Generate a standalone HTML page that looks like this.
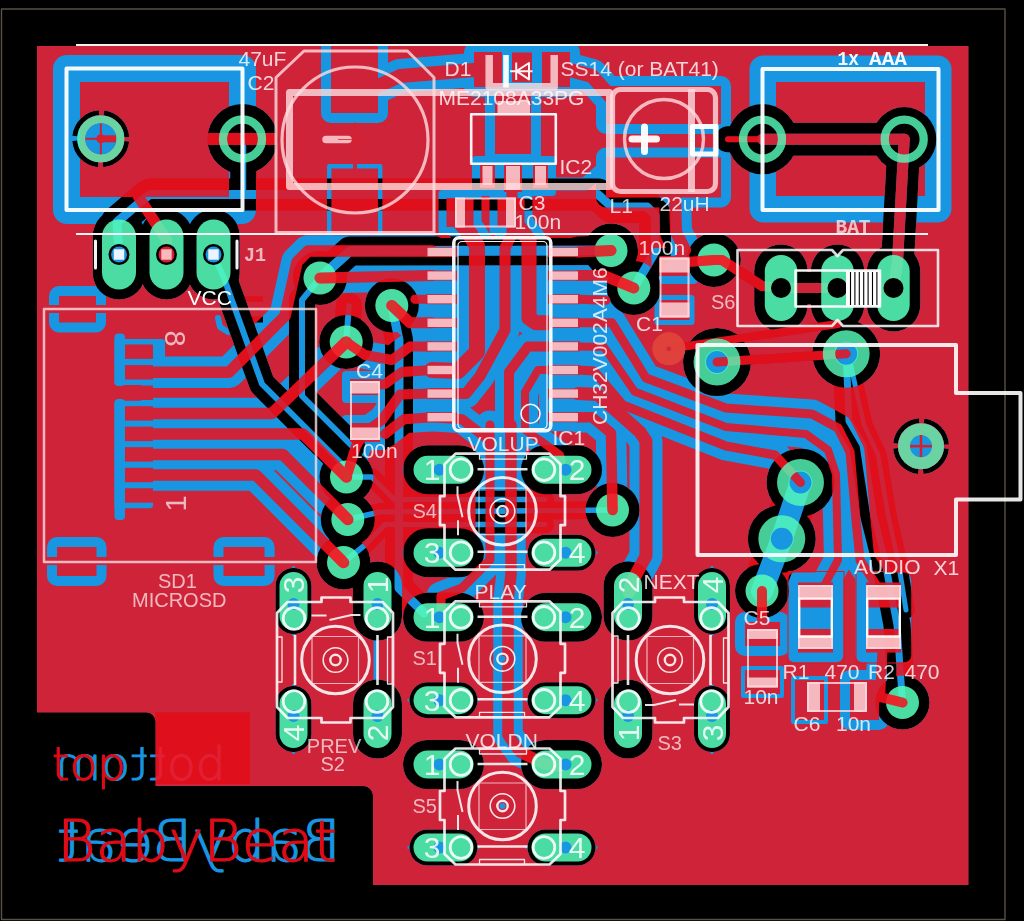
<!DOCTYPE html>
<html><head><meta charset="utf-8"><title>BabyBeat PCB</title>
<style>html,body{margin:0;padding:0;background:#000;overflow:hidden}svg{display:block}</style></head>
<body>
<svg width="1024" height="921" viewBox="0 0 1024 921" fill="none" stroke-linejoin="round">
<rect width="1024" height="921" fill="#000"/>
<defs>
<clipPath id="cp"><path d="M37,46 H968.5 V885 H373 V796 A10,10 0 0 0 363,786 H155.5 V722 A9,9 0 0 0 146.5,712.6 H37 Z"/></clipPath>
<clipPath id="vc"><circle cx="320.0" cy="278.0" r="16.5"/><circle cx="391.8" cy="305.5" r="16.5"/><circle cx="346.2" cy="342.0" r="16.5"/><circle cx="611.0" cy="250.5" r="16.5"/><circle cx="633.8" cy="288.0" r="16.5"/><circle cx="713.8" cy="260.0" r="16.5"/><circle cx="346.5" cy="477.0" r="16.5"/><circle cx="347.8" cy="519.5" r="16.5"/><circle cx="343.5" cy="562.5" r="16.5"/><circle cx="612.5" cy="510.0" r="16.5"/><circle cx="762.0" cy="591.0" r="16.5"/><circle cx="902.5" cy="702.5" r="16.5"/></clipPath>
<mask id="tm" maskUnits="userSpaceOnUse" x="0" y="0" width="1024" height="921"><rect width="1024" height="921" fill="#fff"/>
<rect x="53.0" y="55.0" width="203.0" height="169.0" rx="14.0" fill="#000" />
<rect x="749.5" y="55.5" width="202.0" height="167.0" rx="14.0" fill="#000" />
<circle cx="100.8" cy="138.8" r="26.0" fill="none" stroke="#000" stroke-width="5.0" stroke-dasharray="35.8 5" stroke-dashoffset="-2.5"/>
<circle cx="242.5" cy="139.0" r="35.1" fill="#000" />
<circle cx="762.5" cy="139.2" r="35.1" fill="#000" />
<circle cx="904.2" cy="139.2" r="32.1" fill="#000" />
<rect x="92.8" y="209.5" width="52.5" height="90.0" rx="26.2" fill="#000" />
<rect x="140.2" y="209.5" width="52.5" height="90.0" rx="26.2" fill="#000" />
<rect x="187.2" y="209.5" width="52.5" height="90.0" rx="26.2" fill="#000" />
<rect x="754.2" y="244.5" width="53.5" height="87.0" rx="26.8" fill="#000" />
<rect x="810.8" y="244.5" width="53.5" height="87.0" rx="26.8" fill="#000" />
<rect x="866.8" y="244.5" width="53.5" height="87.0" rx="26.8" fill="#000" />
<circle cx="320.0" cy="278.0" r="27.0" fill="#000" />
<circle cx="391.8" cy="305.5" r="27.0" fill="#000" />
<circle cx="346.2" cy="342.0" r="27.0" fill="#000" />
<circle cx="611.0" cy="250.5" r="27.0" fill="#000" />
<circle cx="633.8" cy="288.0" r="27.0" fill="#000" />
<circle cx="713.8" cy="260.0" r="27.0" fill="#000" />
<circle cx="346.5" cy="477.0" r="27.0" fill="#000" />
<circle cx="347.8" cy="519.5" r="27.0" fill="#000" />
<circle cx="343.5" cy="562.5" r="27.0" fill="#000" />
<circle cx="612.5" cy="510.0" r="27.0" fill="#000" />
<circle cx="762.0" cy="591.0" r="27.0" fill="#000" />
<circle cx="902.5" cy="702.5" r="27.0" fill="#000" />
<circle cx="717.0" cy="362.0" r="34.0" fill="#000" />
<circle cx="846.2" cy="353.8" r="34.0" fill="#000" />
<circle cx="800.5" cy="482.5" r="34.0" fill="#000" />
<circle cx="781.8" cy="538.8" r="34.0" fill="#000" />
<circle cx="921.0" cy="446.2" r="25.5" fill="none" stroke="#000" stroke-width="5.0" stroke-dasharray="35 5" stroke-dashoffset="-2.5"/>
<rect x="403.0" y="445.2" width="81.0" height="49.0" rx="24.5" fill="#000" />
<rect x="403.0" y="528.2" width="81.0" height="49.0" rx="24.5" fill="#000" />
<rect x="521.0" y="445.2" width="81.0" height="49.0" rx="24.5" fill="#000" />
<rect x="527.5" y="534.8" width="68.0" height="36.0" rx="18.0" fill="#000" />
<rect x="403.0" y="592.8" width="81.0" height="49.0" rx="24.5" fill="#000" />
<rect x="409.5" y="682.2" width="68.0" height="36.0" rx="18.0" fill="#000" />
<rect x="521.0" y="592.8" width="81.0" height="49.0" rx="24.5" fill="#000" />
<rect x="527.5" y="682.2" width="68.0" height="36.0" rx="18.0" fill="#000" />
<rect x="403.0" y="740.0" width="81.0" height="49.0" rx="24.5" fill="#000" />
<rect x="409.5" y="829.5" width="68.0" height="36.0" rx="18.0" fill="#000" />
<rect x="521.0" y="740.0" width="81.0" height="49.0" rx="24.5" fill="#000" />
<rect x="527.5" y="829.5" width="68.0" height="36.0" rx="18.0" fill="#000" />
<rect x="275.5" y="568.0" width="36.0" height="66.0" rx="18.0" fill="#000" />
<rect x="275.5" y="686.0" width="36.0" height="66.0" rx="18.0" fill="#000" />
<rect x="353.0" y="561.5" width="49.0" height="79.0" rx="24.5" fill="#000" />
<rect x="353.0" y="679.5" width="49.0" height="79.0" rx="24.5" fill="#000" />
<rect x="603.5" y="561.5" width="49.0" height="79.0" rx="24.5" fill="#000" />
<rect x="603.5" y="679.5" width="49.0" height="79.0" rx="24.5" fill="#000" />
<rect x="694.0" y="568.0" width="36.0" height="66.0" rx="18.0" fill="#000" />
<rect x="694.0" y="686.0" width="36.0" height="66.0" rx="18.0" fill="#000" />
<rect x="321.0" y="26.0" width="67.0" height="97.0" rx="10.0" fill="#000" />
<rect x="329.2" y="166.2" width="51.0" height="73.8" rx="0.0" fill="none" stroke="#000" stroke-width="4.5" />
<rect x="464.0" y="42.0" width="48.0" height="55.0" rx="10.0" fill="#000" />
<rect x="532.0" y="42.0" width="48.0" height="55.0" rx="10.0" fill="#000" />
<rect x="466.0" y="40.0" width="112.0" height="12.5" rx="0.0" fill="#000" />
<rect x="485.0" y="95.0" width="56.0" height="69.0" rx="10.0" fill="#000" />
<rect x="596.0" y="76.0" width="135.0" height="58.0" rx="10.0" fill="#000" />
<rect x="596.0" y="147.5" width="135.0" height="60.0" rx="10.0" fill="#000" />
<polyline points="213.5,254.5 224.0,278.0 262.0,384.0 342.0,464.0 346.5,477.0" stroke="#000" stroke-width="26.0" stroke-linecap="round" />
<polyline points="320.0,278.0 302.0,300.0 302.0,396.0 340.0,434.0 352.0,446.0" stroke="#000" stroke-width="26.0" stroke-linecap="round" />
<polyline points="166.5,254.5 166.5,240.0 138.0,196.0" stroke="#000" stroke-width="31.0" stroke-linecap="round" />
<rect x="114.5" y="339.0" width="50.5" height="25.4" rx="3.0" fill="#000" />
<rect x="114.5" y="359.6" width="38.5" height="25.4" rx="3.0" fill="#000" />
<rect x="114.5" y="400.7" width="38.5" height="25.4" rx="3.0" fill="#000" />
<rect x="114.5" y="421.2" width="38.5" height="25.4" rx="3.0" fill="#000" />
<rect x="114.5" y="441.8" width="38.5" height="25.4" rx="3.0" fill="#000" />
<rect x="114.5" y="462.3" width="38.5" height="25.4" rx="3.0" fill="#000" />
<rect x="114.5" y="482.8" width="38.5" height="25.4" rx="3.0" fill="#000" />
<rect x="114.5" y="333.5" width="10.5" height="52.5" rx="4.0" fill="#000" />
<rect x="114.5" y="399.0" width="10.5" height="121.0" rx="4.0" fill="#000" />
<polyline points="150.0,372.2 229.0,372.2 285.0,316.0 297.0,262.0 308.0,251.0 432.0,251.0" stroke="#000" stroke-width="31.5" stroke-linecap="round" />
<polyline points="150.0,413.4 272.0,413.4 346.2,342.0" stroke="#000" stroke-width="31.5" stroke-linecap="round" />
<polyline points="150.0,433.9 303.0,433.9 346.5,477.0" stroke="#000" stroke-width="31.5" stroke-linecap="round" />
<polyline points="150.0,454.4 282.7,454.4 347.8,519.5" stroke="#000" stroke-width="31.5" stroke-linecap="round" />
<polyline points="150.0,475.0 256.0,475.0 343.5,562.5" stroke="#000" stroke-width="31.5" stroke-linecap="round" />
<rect x="49.0" y="286.0" width="57.0" height="46.5" rx="10.0" fill="#000" />
<rect x="47.0" y="537.0" width="59.5" height="49.0" rx="10.0" fill="#000" />
<rect x="213.5" y="537.0" width="61.1" height="49.0" rx="10.0" fill="#000" />
<polyline points="218.0,318.0 220.0,327.0 228.0,332.0" stroke="#000" stroke-width="6.0" stroke-linecap="round" />
<polyline points="376.0,604.0 376.0,717.0" stroke="#000" stroke-width="5.0" stroke-linecap="butt" />
<polyline points="320.0,278.0 432.0,275.6" stroke="#000" stroke-width="31.0" stroke-linecap="round" />
<polyline points="391.8,305.5 410.0,322.8 432.0,322.8" stroke="#000" stroke-width="31.0" stroke-linecap="round" />
<rect x="417.0" y="238.0" width="49.0" height="28.0" rx="4.0" fill="#000" />
<rect x="539.0" y="238.0" width="50.0" height="28.0" rx="4.0" fill="#000" />
<rect x="417.0" y="261.6" width="49.0" height="28.0" rx="4.0" fill="#000" />
<rect x="539.0" y="261.6" width="50.0" height="28.0" rx="4.0" fill="#000" />
<rect x="417.0" y="285.2" width="49.0" height="28.0" rx="4.0" fill="#000" />
<rect x="539.0" y="285.2" width="50.0" height="28.0" rx="4.0" fill="#000" />
<rect x="417.0" y="308.8" width="49.0" height="28.0" rx="4.0" fill="#000" />
<rect x="539.0" y="308.8" width="50.0" height="28.0" rx="4.0" fill="#000" />
<rect x="417.0" y="332.4" width="49.0" height="28.0" rx="4.0" fill="#000" />
<rect x="539.0" y="332.4" width="50.0" height="28.0" rx="4.0" fill="#000" />
<rect x="417.0" y="356.0" width="49.0" height="28.0" rx="4.0" fill="#000" />
<rect x="539.0" y="356.0" width="50.0" height="28.0" rx="4.0" fill="#000" />
<rect x="417.0" y="379.6" width="49.0" height="28.0" rx="4.0" fill="#000" />
<rect x="539.0" y="379.6" width="50.0" height="28.0" rx="4.0" fill="#000" />
<rect x="417.0" y="403.2" width="49.0" height="28.0" rx="4.0" fill="#000" />
<rect x="539.0" y="403.2" width="50.0" height="28.0" rx="4.0" fill="#000" />
<polyline points="378.0,86.0 400.0,76.0 474.0,70.0" stroke="#000" stroke-width="34.0" stroke-linecap="round" />
<polyline points="570.0,70.0 592.0,76.0 610.0,96.0" stroke="#000" stroke-width="34.0" stroke-linecap="round" />
<rect x="485.0" y="82.0" width="56.0" height="82.0" rx="10.0" fill="#000" />
<rect x="472.0" y="156.0" width="31.0" height="40.0" rx="4.0" fill="#000" />
<rect x="496.0" y="156.0" width="34.0" height="44.0" rx="4.0" fill="#000" />
<rect x="525.0" y="156.0" width="31.0" height="40.0" rx="4.0" fill="#000" />
<rect x="438.5" y="190.0" width="43.0" height="45.0" rx="4.0" fill="#000" />
<rect x="489.5" y="190.0" width="43.0" height="45.0" rx="4.0" fill="#000" />
<polyline points="460.0,222.0 470.0,234.0 477.0,246.0 477.0,352.0 458.0,371.0 432.0,370.0" stroke="#000" stroke-width="34.0" stroke-linecap="round" />
<polyline points="512.0,180.0 512.0,234.0 505.0,248.0 505.0,330.0 480.0,376.0 466.0,393.6 432.0,393.6" stroke="#000" stroke-width="29.0" stroke-linecap="round" />
<polyline points="515.0,222.0 529.0,240.0 529.0,318.0 536.0,322.8 548.0,322.8" stroke="#000" stroke-width="33.0" stroke-linecap="round" />
<polyline points="548.0,346.4 528.0,346.4 509.0,372.0 509.0,430.0" stroke="#000" stroke-width="28.0" stroke-linecap="round" />
<polyline points="548.0,370.0 538.0,370.0 525.0,392.0 525.0,430.0 541.0,441.0 560.0,455.0 563.5,469.0" stroke="#000" stroke-width="26.0" stroke-linecap="round" />
<polyline points="432.0,417.2 462.0,419.2 489.0,440.0" stroke="#000" stroke-width="28.0" stroke-linecap="round" />
<polyline points="432.0,346.4 410.0,346.4 392.0,360.0 365.0,355.0 346.2,342.0" stroke="#000" stroke-width="28.0" stroke-linecap="round" />
<polyline points="432.0,370.0 402.0,372.0 385.0,384.0 365.0,386.0" stroke="#000" stroke-width="28.0" stroke-linecap="round" />
<polyline points="432.0,393.6 400.0,394.6 382.0,420.0 365.0,432.0" stroke="#000" stroke-width="28.0" stroke-linecap="round" />
<polyline points="432.0,417.2 404.0,419.2 385.0,434.0" stroke="#000" stroke-width="28.0" stroke-linecap="round" />
<polyline points="346.5,477.0 356.0,446.0 365.0,432.0" stroke="#000" stroke-width="30.0" stroke-linecap="round" />
<polyline points="432.0,299.2 415.0,299.2" stroke="#000" stroke-width="27.0" stroke-linecap="round" />
<rect x="342.0" y="371.0" width="46.0" height="32.0" rx="4.0" fill="#000" />
<rect x="342.0" y="415.0" width="46.0" height="35.0" rx="4.0" fill="#000" />
<polyline points="675.0,197.0 676.0,232.0 685.0,250.0 678.0,264.0" stroke="#000" stroke-width="32.0" stroke-linecap="round" />
<rect x="651.5" y="248.0" width="46.0" height="36.0" rx="4.0" fill="#000" />
<rect x="654.5" y="295.0" width="40.0" height="30.0" rx="3.0" fill="#000" />
<polyline points="728.0,139.2 762.5,139.2" stroke="#000" stroke-width="26.0" stroke-linecap="round" />
<polyline points="762.5,139.2 904.2,139.2" stroke="#000" stroke-width="33.0" stroke-linecap="round" />
<polyline points="904.2,139.2 897.5,262.0 893.5,288.0" stroke="#000" stroke-width="33.0" stroke-linecap="round" />
<polyline points="781.0,288.0 837.5,288.0" stroke="#000" stroke-width="32.0" stroke-linecap="round" />
<polyline points="611.0,250.5 578.0,252.0" stroke="#000" stroke-width="31.0" stroke-linecap="round" />
<polyline points="633.8,288.0 604.0,275.6 578.0,275.6" stroke="#000" stroke-width="31.0" stroke-linecap="round" />
<polyline points="578.0,299.2 606.0,300.2" stroke="#000" stroke-width="27.0" stroke-linecap="round" />
<polyline points="578.0,322.8 612.0,322.8 646.0,378.0 726.0,408.0 812.0,414.0 838.0,428.0 850.0,452.0 856.0,520.0 860.0,560.0 878.0,588.0" stroke="#000" stroke-width="29.0" stroke-linecap="round" />
<polyline points="578.0,346.4 604.0,346.9 634.5,391.4 726.0,427.0 806.0,434.0 828.0,450.0 836.0,474.0 838.0,560.0 824.0,586.0" stroke="#000" stroke-width="28.0" stroke-linecap="round" />
<polyline points="578.0,370.0 594.0,371.0 622.8,405.0 726.0,446.0 775.0,455.0 800.5,482.5" stroke="#000" stroke-width="29.0" stroke-linecap="round" />
<rect x="787.5" y="572.5" width="56.0" height="90.0" rx="8.0" fill="#000" />
<rect x="798.0" y="582.5" width="35.0" height="25.0" rx="0.0" fill="#000" />
<rect x="798.0" y="629.0" width="35.0" height="23.5" rx="0.0" fill="#000" />
<rect x="855.5" y="572.5" width="56.0" height="90.0" rx="8.0" fill="#000" />
<rect x="866.0" y="582.5" width="35.0" height="25.0" rx="0.0" fill="#000" />
<rect x="866.0" y="629.0" width="35.0" height="23.5" rx="0.0" fill="#000" />
<rect x="735.0" y="612.0" width="55.0" height="44.0" rx="10.0" fill="#000" />
<rect x="741.0" y="666.0" width="43.0" height="32.0" rx="2.0" fill="#000" />
<rect x="791.0" y="676.0" width="37.0" height="48.0" rx="2.0" fill="#000" />
<rect x="840.0" y="670.0" width="49.0" height="60.0" rx="10.0" fill="#000" />
<polyline points="762.0,591.0 762.0,630.0" stroke="#000" stroke-width="30.0" stroke-linecap="round" />
<polyline points="902.5,702.5 880.0,697.0 865.0,700.0" stroke="#000" stroke-width="30.0" stroke-linecap="round" />
<polyline points="883.0,640.0 880.0,697.0" stroke="#000" stroke-width="30.0" stroke-linecap="round" />
<polyline points="490.0,425.0 490.0,560.0 462.0,588.0 441.0,596.0 441.0,617.0" stroke="#000" stroke-width="29.0" stroke-linecap="round" />
<polyline points="511.0,425.0 511.0,575.0 508.0,600.0 508.0,735.0 520.0,752.0 545.0,764.0 561.0,766.0" stroke="#000" stroke-width="29.5" stroke-linecap="round" />
<polyline points="578.0,417.2 592.0,417.2 611.0,433.0 612.5,510.0" stroke="#000" stroke-width="30.5" stroke-linecap="round" />
<polyline points="578.0,393.6 598.0,394.6 640.0,432.0 646.0,441.0 646.0,556.0 634.0,578.0 629.0,592.0" stroke="#000" stroke-width="33.0" stroke-linecap="round" />
<polyline points="548.0,184.0 585.0,184.0 600.0,171.0" stroke="#000" stroke-width="13.0" stroke-linecap="butt" />
<polyline points="525.5,552.8 597.5,552.8" stroke="#000" stroke-width="2.6" stroke-linecap="butt" />
<polyline points="407.5,700.2 479.5,700.2" stroke="#000" stroke-width="2.6" stroke-linecap="butt" />
<polyline points="525.5,700.2 597.5,700.2" stroke="#000" stroke-width="2.6" stroke-linecap="butt" />
<polyline points="407.5,847.5 479.5,847.5" stroke="#000" stroke-width="2.6" stroke-linecap="butt" />
<polyline points="525.5,847.5 597.5,847.5" stroke="#000" stroke-width="2.6" stroke-linecap="butt" />
<polyline points="293.5,566.0 293.5,636.0" stroke="#000" stroke-width="2.6" stroke-linecap="butt" />
<polyline points="293.5,684.0 293.5,754.0" stroke="#000" stroke-width="2.6" stroke-linecap="butt" />
<polyline points="712.0,566.0 712.0,636.0" stroke="#000" stroke-width="2.6" stroke-linecap="butt" />
<polyline points="712.0,684.0 712.0,754.0" stroke="#000" stroke-width="2.6" stroke-linecap="butt" />
</mask>
<mask id="tm2" maskUnits="userSpaceOnUse" x="0" y="0" width="1024" height="921"><rect width="1024" height="921" fill="#fff"/>
<circle cx="100.8" cy="138.8" r="26.0" fill="none" stroke="#000" stroke-width="5.0" stroke-dasharray="35.8 5" stroke-dashoffset="-2.5"/>
<circle cx="242.5" cy="139.0" r="35.1" fill="#000" />
<circle cx="762.5" cy="139.2" r="35.1" fill="#000" />
<circle cx="904.2" cy="139.2" r="32.1" fill="#000" />
<circle cx="717.0" cy="362.0" r="34.0" fill="#000" />
<circle cx="846.2" cy="353.8" r="34.0" fill="#000" />
<circle cx="800.5" cy="482.5" r="34.0" fill="#000" />
<circle cx="781.8" cy="538.8" r="34.0" fill="#000" />
<polyline points="762.5,139.2 904.2,139.2" stroke="#000" stroke-width="33.0" stroke-linecap="round" />
<polyline points="904.2,139.2 897.5,262.0 893.5,288.0" stroke="#000" stroke-width="33.0" stroke-linecap="round" />
<polyline points="781.0,288.0 837.5,288.0" stroke="#000" stroke-width="32.0" stroke-linecap="round" />
</mask>
</defs>
<defs>
<mask id="tm3" maskUnits="userSpaceOnUse" x="0" y="0" width="1024" height="921"><rect width="1024" height="921" fill="#fff"/>
<rect x="53.0" y="55.0" width="203.0" height="169.0" rx="14.0" fill="#000" />
<rect x="749.5" y="55.5" width="202.0" height="167.0" rx="14.0" fill="#000" />
<circle cx="100.8" cy="138.8" r="26.0" fill="none" stroke="#000" stroke-width="5.0" stroke-dasharray="35.8 5" stroke-dashoffset="-2.5"/>
<circle cx="242.5" cy="139.0" r="35.1" fill="#000" />
<circle cx="762.5" cy="139.2" r="35.1" fill="#000" />
<circle cx="904.2" cy="139.2" r="32.1" fill="#000" />
<rect x="92.8" y="209.5" width="52.5" height="90.0" rx="26.2" fill="#000" />
<rect x="140.2" y="209.5" width="52.5" height="90.0" rx="26.2" fill="#000" />
<rect x="187.2" y="209.5" width="52.5" height="90.0" rx="26.2" fill="#000" />
<rect x="754.2" y="244.5" width="53.5" height="87.0" rx="26.8" fill="#000" />
<rect x="810.8" y="244.5" width="53.5" height="87.0" rx="26.8" fill="#000" />
<rect x="866.8" y="244.5" width="53.5" height="87.0" rx="26.8" fill="#000" />
<circle cx="320.0" cy="278.0" r="27.0" fill="#000" />
<circle cx="391.8" cy="305.5" r="27.0" fill="#000" />
<circle cx="346.2" cy="342.0" r="27.0" fill="#000" />
<circle cx="611.0" cy="250.5" r="27.0" fill="#000" />
<circle cx="633.8" cy="288.0" r="27.0" fill="#000" />
<circle cx="713.8" cy="260.0" r="27.0" fill="#000" />
<circle cx="346.5" cy="477.0" r="27.0" fill="#000" />
<circle cx="347.8" cy="519.5" r="27.0" fill="#000" />
<circle cx="343.5" cy="562.5" r="27.0" fill="#000" />
<circle cx="612.5" cy="510.0" r="27.0" fill="#000" />
<circle cx="762.0" cy="591.0" r="27.0" fill="#000" />
<circle cx="902.5" cy="702.5" r="27.0" fill="#000" />
<circle cx="717.0" cy="362.0" r="34.0" fill="#000" />
<circle cx="846.2" cy="353.8" r="34.0" fill="#000" />
<circle cx="800.5" cy="482.5" r="34.0" fill="#000" />
<circle cx="781.8" cy="538.8" r="34.0" fill="#000" />
<circle cx="921.0" cy="446.2" r="25.5" fill="none" stroke="#000" stroke-width="5.0" stroke-dasharray="35 5" stroke-dashoffset="-2.5"/>
<rect x="403.0" y="445.2" width="81.0" height="49.0" rx="24.5" fill="#000" />
<rect x="403.0" y="528.2" width="81.0" height="49.0" rx="24.5" fill="#000" />
<rect x="521.0" y="445.2" width="81.0" height="49.0" rx="24.5" fill="#000" />
<rect x="527.5" y="534.8" width="68.0" height="36.0" rx="18.0" fill="#000" />
<rect x="403.0" y="592.8" width="81.0" height="49.0" rx="24.5" fill="#000" />
<rect x="409.5" y="682.2" width="68.0" height="36.0" rx="18.0" fill="#000" />
<rect x="521.0" y="592.8" width="81.0" height="49.0" rx="24.5" fill="#000" />
<rect x="527.5" y="682.2" width="68.0" height="36.0" rx="18.0" fill="#000" />
<rect x="403.0" y="740.0" width="81.0" height="49.0" rx="24.5" fill="#000" />
<rect x="409.5" y="829.5" width="68.0" height="36.0" rx="18.0" fill="#000" />
<rect x="521.0" y="740.0" width="81.0" height="49.0" rx="24.5" fill="#000" />
<rect x="527.5" y="829.5" width="68.0" height="36.0" rx="18.0" fill="#000" />
<rect x="275.5" y="568.0" width="36.0" height="66.0" rx="18.0" fill="#000" />
<rect x="275.5" y="686.0" width="36.0" height="66.0" rx="18.0" fill="#000" />
<rect x="353.0" y="561.5" width="49.0" height="79.0" rx="24.5" fill="#000" />
<rect x="353.0" y="679.5" width="49.0" height="79.0" rx="24.5" fill="#000" />
<rect x="603.5" y="561.5" width="49.0" height="79.0" rx="24.5" fill="#000" />
<rect x="603.5" y="679.5" width="49.0" height="79.0" rx="24.5" fill="#000" />
<rect x="694.0" y="568.0" width="36.0" height="66.0" rx="18.0" fill="#000" />
<rect x="694.0" y="686.0" width="36.0" height="66.0" rx="18.0" fill="#000" />
<rect x="321.0" y="26.0" width="67.0" height="97.0" rx="10.0" fill="#000" />
<rect x="329.2" y="166.2" width="51.0" height="73.8" rx="0.0" fill="none" stroke="#000" stroke-width="4.5" />
<rect x="464.0" y="42.0" width="48.0" height="55.0" rx="10.0" fill="#000" />
<rect x="532.0" y="42.0" width="48.0" height="55.0" rx="10.0" fill="#000" />
<rect x="466.0" y="40.0" width="112.0" height="12.5" rx="0.0" fill="#000" />
<rect x="485.0" y="95.0" width="56.0" height="69.0" rx="10.0" fill="#000" />
<rect x="596.0" y="76.0" width="135.0" height="58.0" rx="10.0" fill="#000" />
<rect x="596.0" y="147.5" width="135.0" height="60.0" rx="10.0" fill="#000" />
<polyline points="213.5,254.5 224.0,278.0 262.0,384.0 342.0,464.0 346.5,477.0" stroke="#000" stroke-width="26.0" stroke-linecap="round" />
<polyline points="320.0,278.0 302.0,300.0 302.0,396.0 340.0,434.0 352.0,446.0" stroke="#000" stroke-width="26.0" stroke-linecap="round" />
<polyline points="166.5,254.5 166.5,240.0 138.0,196.0" stroke="#000" stroke-width="31.0" stroke-linecap="round" />
<rect x="114.5" y="339.0" width="50.5" height="25.4" rx="3.0" fill="#000" />
<rect x="114.5" y="359.6" width="38.5" height="25.4" rx="3.0" fill="#000" />
<rect x="114.5" y="400.7" width="38.5" height="25.4" rx="3.0" fill="#000" />
<rect x="114.5" y="421.2" width="38.5" height="25.4" rx="3.0" fill="#000" />
<rect x="114.5" y="441.8" width="38.5" height="25.4" rx="3.0" fill="#000" />
<rect x="114.5" y="462.3" width="38.5" height="25.4" rx="3.0" fill="#000" />
<rect x="114.5" y="482.8" width="38.5" height="25.4" rx="3.0" fill="#000" />
<rect x="114.5" y="333.5" width="10.5" height="52.5" rx="4.0" fill="#000" />
<rect x="114.5" y="399.0" width="10.5" height="121.0" rx="4.0" fill="#000" />
<polyline points="150.0,372.2 229.0,372.2 285.0,316.0 297.0,262.0 308.0,251.0 432.0,251.0" stroke="#000" stroke-width="31.5" stroke-linecap="round" />
<polyline points="150.0,413.4 272.0,413.4 346.2,342.0" stroke="#000" stroke-width="31.5" stroke-linecap="round" />
<polyline points="150.0,433.9 303.0,433.9 346.5,477.0" stroke="#000" stroke-width="31.5" stroke-linecap="round" />
<polyline points="150.0,454.4 282.7,454.4 347.8,519.5" stroke="#000" stroke-width="31.5" stroke-linecap="round" />
<polyline points="150.0,475.0 256.0,475.0 343.5,562.5" stroke="#000" stroke-width="31.5" stroke-linecap="round" />
<rect x="49.0" y="286.0" width="57.0" height="46.5" rx="10.0" fill="#000" />
<rect x="47.0" y="537.0" width="59.5" height="49.0" rx="10.0" fill="#000" />
<rect x="213.5" y="537.0" width="61.1" height="49.0" rx="10.0" fill="#000" />
<polyline points="218.0,318.0 220.0,327.0 228.0,332.0" stroke="#000" stroke-width="6.0" stroke-linecap="round" />
<polyline points="376.0,604.0 376.0,717.0" stroke="#000" stroke-width="5.0" stroke-linecap="butt" />
<polyline points="320.0,278.0 432.0,275.6" stroke="#000" stroke-width="31.0" stroke-linecap="round" />
<polyline points="391.8,305.5 410.0,322.8 432.0,322.8" stroke="#000" stroke-width="31.0" stroke-linecap="round" />
<rect x="417.0" y="238.0" width="49.0" height="28.0" rx="4.0" fill="#000" />
<rect x="539.0" y="238.0" width="50.0" height="28.0" rx="4.0" fill="#000" />
<rect x="417.0" y="261.6" width="49.0" height="28.0" rx="4.0" fill="#000" />
<rect x="539.0" y="261.6" width="50.0" height="28.0" rx="4.0" fill="#000" />
<rect x="417.0" y="285.2" width="49.0" height="28.0" rx="4.0" fill="#000" />
<rect x="539.0" y="285.2" width="50.0" height="28.0" rx="4.0" fill="#000" />
<rect x="417.0" y="308.8" width="49.0" height="28.0" rx="4.0" fill="#000" />
<rect x="539.0" y="308.8" width="50.0" height="28.0" rx="4.0" fill="#000" />
<rect x="417.0" y="332.4" width="49.0" height="28.0" rx="4.0" fill="#000" />
<rect x="539.0" y="332.4" width="50.0" height="28.0" rx="4.0" fill="#000" />
<rect x="417.0" y="356.0" width="49.0" height="28.0" rx="4.0" fill="#000" />
<rect x="539.0" y="356.0" width="50.0" height="28.0" rx="4.0" fill="#000" />
<rect x="417.0" y="379.6" width="49.0" height="28.0" rx="4.0" fill="#000" />
<rect x="539.0" y="379.6" width="50.0" height="28.0" rx="4.0" fill="#000" />
<rect x="417.0" y="403.2" width="49.0" height="28.0" rx="4.0" fill="#000" />
<rect x="539.0" y="403.2" width="50.0" height="28.0" rx="4.0" fill="#000" />
<polyline points="378.0,86.0 400.0,76.0 474.0,70.0" stroke="#000" stroke-width="34.0" stroke-linecap="round" />
<polyline points="570.0,70.0 592.0,76.0 610.0,96.0" stroke="#000" stroke-width="34.0" stroke-linecap="round" />
<rect x="485.0" y="82.0" width="56.0" height="82.0" rx="10.0" fill="#000" />
<rect x="472.0" y="156.0" width="31.0" height="40.0" rx="4.0" fill="#000" />
<rect x="496.0" y="156.0" width="34.0" height="44.0" rx="4.0" fill="#000" />
<rect x="525.0" y="156.0" width="31.0" height="40.0" rx="4.0" fill="#000" />
<rect x="438.5" y="190.0" width="43.0" height="45.0" rx="4.0" fill="#000" />
<rect x="489.5" y="190.0" width="43.0" height="45.0" rx="4.0" fill="#000" />
<polyline points="460.0,222.0 470.0,234.0 477.0,246.0 477.0,352.0 458.0,371.0 432.0,370.0" stroke="#000" stroke-width="34.0" stroke-linecap="round" />
<polyline points="512.0,180.0 512.0,234.0 505.0,248.0 505.0,330.0 480.0,376.0 466.0,393.6 432.0,393.6" stroke="#000" stroke-width="29.0" stroke-linecap="round" />
<polyline points="515.0,222.0 529.0,240.0 529.0,318.0 536.0,322.8 548.0,322.8" stroke="#000" stroke-width="33.0" stroke-linecap="round" />
<polyline points="548.0,346.4 528.0,346.4 509.0,372.0 509.0,430.0" stroke="#000" stroke-width="28.0" stroke-linecap="round" />
<polyline points="548.0,370.0 538.0,370.0 525.0,392.0 525.0,430.0 541.0,441.0 560.0,455.0 563.5,469.0" stroke="#000" stroke-width="26.0" stroke-linecap="round" />
<polyline points="432.0,417.2 462.0,419.2 489.0,440.0" stroke="#000" stroke-width="28.0" stroke-linecap="round" />
<polyline points="432.0,346.4 410.0,346.4 392.0,360.0 365.0,355.0 346.2,342.0" stroke="#000" stroke-width="28.0" stroke-linecap="round" />
<polyline points="432.0,370.0 402.0,372.0 385.0,384.0 365.0,386.0" stroke="#000" stroke-width="28.0" stroke-linecap="round" />
<polyline points="432.0,393.6 400.0,394.6 382.0,420.0 365.0,432.0" stroke="#000" stroke-width="28.0" stroke-linecap="round" />
<polyline points="432.0,417.2 404.0,419.2 385.0,434.0" stroke="#000" stroke-width="28.0" stroke-linecap="round" />
<polyline points="346.5,477.0 356.0,446.0 365.0,432.0" stroke="#000" stroke-width="30.0" stroke-linecap="round" />
<polyline points="432.0,299.2 415.0,299.2" stroke="#000" stroke-width="27.0" stroke-linecap="round" />
<rect x="342.0" y="371.0" width="46.0" height="32.0" rx="4.0" fill="#000" />
<rect x="342.0" y="415.0" width="46.0" height="35.0" rx="4.0" fill="#000" />
<polyline points="675.0,197.0 676.0,232.0 685.0,250.0 678.0,264.0" stroke="#000" stroke-width="32.0" stroke-linecap="round" />
<rect x="651.5" y="248.0" width="46.0" height="36.0" rx="4.0" fill="#000" />
<rect x="654.5" y="295.0" width="40.0" height="30.0" rx="3.0" fill="#000" />
<polyline points="728.0,139.2 762.5,139.2" stroke="#000" stroke-width="26.0" stroke-linecap="round" />
<polyline points="762.5,139.2 904.2,139.2" stroke="#000" stroke-width="33.0" stroke-linecap="round" />
<polyline points="904.2,139.2 897.5,262.0 893.5,288.0" stroke="#000" stroke-width="33.0" stroke-linecap="round" />
<polyline points="781.0,288.0 837.5,288.0" stroke="#000" stroke-width="32.0" stroke-linecap="round" />
<polyline points="611.0,250.5 578.0,252.0" stroke="#000" stroke-width="31.0" stroke-linecap="round" />
<polyline points="633.8,288.0 604.0,275.6 578.0,275.6" stroke="#000" stroke-width="31.0" stroke-linecap="round" />
<polyline points="578.0,299.2 606.0,300.2" stroke="#000" stroke-width="27.0" stroke-linecap="round" />
<polyline points="578.0,322.8 612.0,322.8 646.0,378.0 726.0,408.0 812.0,414.0 838.0,428.0 850.0,452.0 856.0,520.0 860.0,560.0 878.0,588.0" stroke="#000" stroke-width="29.0" stroke-linecap="round" />
<polyline points="578.0,346.4 604.0,346.9 634.5,391.4 726.0,427.0 806.0,434.0 828.0,450.0 836.0,474.0 838.0,560.0 824.0,586.0" stroke="#000" stroke-width="28.0" stroke-linecap="round" />
<polyline points="578.0,370.0 594.0,371.0 622.8,405.0 726.0,446.0 775.0,455.0 800.5,482.5" stroke="#000" stroke-width="29.0" stroke-linecap="round" />
<rect x="787.5" y="572.5" width="56.0" height="90.0" rx="8.0" fill="#000" />
<rect x="798.0" y="582.5" width="35.0" height="25.0" rx="0.0" fill="#000" />
<rect x="798.0" y="629.0" width="35.0" height="23.5" rx="0.0" fill="#000" />
<rect x="855.5" y="572.5" width="56.0" height="90.0" rx="8.0" fill="#000" />
<rect x="866.0" y="582.5" width="35.0" height="25.0" rx="0.0" fill="#000" />
<rect x="866.0" y="629.0" width="35.0" height="23.5" rx="0.0" fill="#000" />
<rect x="735.0" y="612.0" width="55.0" height="44.0" rx="10.0" fill="#000" />
<rect x="741.0" y="666.0" width="43.0" height="32.0" rx="2.0" fill="#000" />
<rect x="791.0" y="676.0" width="37.0" height="48.0" rx="2.0" fill="#000" />
<rect x="840.0" y="670.0" width="49.0" height="60.0" rx="10.0" fill="#000" />
<polyline points="762.0,591.0 762.0,630.0" stroke="#000" stroke-width="30.0" stroke-linecap="round" />
<polyline points="902.5,702.5 880.0,697.0 865.0,700.0" stroke="#000" stroke-width="30.0" stroke-linecap="round" />
<polyline points="883.0,640.0 880.0,697.0" stroke="#000" stroke-width="30.0" stroke-linecap="round" />
<polyline points="490.0,425.0 490.0,560.0 462.0,588.0 441.0,596.0 441.0,617.0" stroke="#000" stroke-width="29.0" stroke-linecap="round" />
<polyline points="511.0,425.0 511.0,575.0 508.0,600.0 508.0,735.0 520.0,752.0 545.0,764.0 561.0,766.0" stroke="#000" stroke-width="29.5" stroke-linecap="round" />
<polyline points="578.0,417.2 592.0,417.2 611.0,433.0 612.5,510.0" stroke="#000" stroke-width="30.5" stroke-linecap="round" />
<polyline points="578.0,393.6 598.0,394.6 640.0,432.0 646.0,441.0 646.0,556.0 634.0,578.0 629.0,592.0" stroke="#000" stroke-width="33.0" stroke-linecap="round" />
<polyline points="548.0,184.0 585.0,184.0 600.0,171.0" stroke="#000" stroke-width="13.0" stroke-linecap="butt" />
<polyline points="525.5,552.8 597.5,552.8" stroke="#000" stroke-width="2.6" stroke-linecap="butt" />
<polyline points="407.5,700.2 479.5,700.2" stroke="#000" stroke-width="2.6" stroke-linecap="butt" />
<polyline points="525.5,700.2 597.5,700.2" stroke="#000" stroke-width="2.6" stroke-linecap="butt" />
<polyline points="407.5,847.5 479.5,847.5" stroke="#000" stroke-width="2.6" stroke-linecap="butt" />
<polyline points="525.5,847.5 597.5,847.5" stroke="#000" stroke-width="2.6" stroke-linecap="butt" />
<polyline points="293.5,566.0 293.5,636.0" stroke="#000" stroke-width="2.6" stroke-linecap="butt" />
<polyline points="293.5,684.0 293.5,754.0" stroke="#000" stroke-width="2.6" stroke-linecap="butt" />
<polyline points="712.0,566.0 712.0,636.0" stroke="#000" stroke-width="2.6" stroke-linecap="butt" />
<polyline points="712.0,684.0 712.0,754.0" stroke="#000" stroke-width="2.6" stroke-linecap="butt" />
<g mask="url(#tm2)"><rect x="80.0" y="82.0" width="149.0" height="115.0" rx="0.0" fill="#fff" />
<rect x="776.0" y="82.0" width="149.0" height="114.0" rx="0.0" fill="#fff" />
<rect x="331.0" y="36.0" width="47.0" height="77.0" rx="0.0" fill="#fff" />
<rect x="353.0" y="160.0" width="4.0" height="10.0" rx="0.0" fill="#fff" />
<rect x="474.0" y="52.0" width="28.0" height="35.0" rx="0.0" fill="#fff" />
<rect x="542.0" y="52.0" width="28.0" height="35.0" rx="0.0" fill="#fff" />
<rect x="495.0" y="105.0" width="36.0" height="49.0" rx="0.0" fill="#fff" />
<rect x="606.0" y="86.0" width="115.0" height="38.0" rx="0.0" fill="#fff" />
<rect x="606.0" y="157.5" width="115.0" height="40.0" rx="0.0" fill="#fff" />
<rect x="125.0" y="344.5" width="28.0" height="14.4" rx="0.0" fill="#fff" />
<rect x="125.0" y="365.1" width="28.0" height="14.4" rx="0.0" fill="#fff" />
<rect x="125.0" y="385.6" width="28.0" height="14.4" rx="0.0" fill="#fff" />
<rect x="125.0" y="406.2" width="28.0" height="14.4" rx="0.0" fill="#fff" />
<rect x="125.0" y="426.7" width="28.0" height="14.4" rx="0.0" fill="#fff" />
<rect x="125.0" y="447.2" width="28.0" height="14.4" rx="0.0" fill="#fff" />
<rect x="125.0" y="467.8" width="28.0" height="14.4" rx="0.0" fill="#fff" />
<rect x="125.0" y="488.3" width="28.0" height="14.4" rx="0.0" fill="#fff" />
<rect x="59.0" y="296.0" width="37.0" height="26.5" rx="0.0" fill="#fff" />
<rect x="57.0" y="547.0" width="39.5" height="29.0" rx="0.0" fill="#fff" />
<rect x="223.5" y="547.0" width="41.1" height="29.0" rx="0.0" fill="#fff" />
<rect x="45.0" y="305.0" width="15.0" height="8.0" rx="0.0" fill="#fff" />
<rect x="95.0" y="305.0" width="13.0" height="8.0" rx="0.0" fill="#fff" />
<rect x="45.0" y="557.0" width="13.0" height="8.0" rx="0.0" fill="#fff" />
<rect x="95.5" y="557.0" width="12.5" height="8.0" rx="0.0" fill="#fff" />
<rect x="212.0" y="557.0" width="12.5" height="8.0" rx="0.0" fill="#fff" />
<rect x="264.0" y="557.0" width="12.0" height="8.0" rx="0.0" fill="#fff" />
<rect x="426.0" y="247.0" width="31.0" height="10.0" rx="0.0" fill="#fff" />
<rect x="548.0" y="247.0" width="32.0" height="10.0" rx="0.0" fill="#fff" />
<rect x="426.0" y="270.6" width="31.0" height="10.0" rx="0.0" fill="#fff" />
<rect x="548.0" y="270.6" width="32.0" height="10.0" rx="0.0" fill="#fff" />
<rect x="426.0" y="294.2" width="31.0" height="10.0" rx="0.0" fill="#fff" />
<rect x="548.0" y="294.2" width="32.0" height="10.0" rx="0.0" fill="#fff" />
<rect x="426.0" y="317.8" width="31.0" height="10.0" rx="0.0" fill="#fff" />
<rect x="548.0" y="317.8" width="32.0" height="10.0" rx="0.0" fill="#fff" />
<rect x="426.0" y="341.4" width="31.0" height="10.0" rx="0.0" fill="#fff" />
<rect x="548.0" y="341.4" width="32.0" height="10.0" rx="0.0" fill="#fff" />
<rect x="426.0" y="365.0" width="31.0" height="10.0" rx="0.0" fill="#fff" />
<rect x="548.0" y="365.0" width="32.0" height="10.0" rx="0.0" fill="#fff" />
<rect x="426.0" y="388.6" width="31.0" height="10.0" rx="0.0" fill="#fff" />
<rect x="548.0" y="388.6" width="32.0" height="10.0" rx="0.0" fill="#fff" />
<rect x="426.0" y="412.2" width="31.0" height="10.0" rx="0.0" fill="#fff" />
<rect x="548.0" y="412.2" width="32.0" height="10.0" rx="0.0" fill="#fff" />
<rect x="495.0" y="92.0" width="36.0" height="62.0" rx="0.0" fill="#fff" />
<rect x="480.0" y="164.0" width="15.0" height="24.0" rx="0.0" fill="#fff" />
<rect x="504.0" y="164.0" width="18.0" height="28.0" rx="0.0" fill="#fff" />
<rect x="533.0" y="164.0" width="15.0" height="24.0" rx="0.0" fill="#fff" />
<rect x="446.5" y="198.0" width="27.0" height="29.0" rx="0.0" fill="#fff" />
<rect x="497.5" y="198.0" width="27.0" height="29.0" rx="0.0" fill="#fff" />
<rect x="350.0" y="379.0" width="30.0" height="16.0" rx="0.0" fill="#fff" />
<rect x="350.0" y="423.0" width="30.0" height="19.0" rx="0.0" fill="#fff" />
<rect x="659.5" y="256.0" width="30.0" height="20.0" rx="0.0" fill="#fff" />
<rect x="659.5" y="300.0" width="30.0" height="20.0" rx="0.0" fill="#fff" />
<rect x="798.0" y="582.5" width="35.0" height="25.0" rx="0.0" fill="#fff" />
<rect x="798.0" y="629.0" width="35.0" height="23.5" rx="0.0" fill="#fff" />
<rect x="866.0" y="582.5" width="35.0" height="25.0" rx="0.0" fill="#fff" />
<rect x="866.0" y="629.0" width="35.0" height="23.5" rx="0.0" fill="#fff" />
<rect x="745.0" y="622.0" width="35.0" height="24.0" rx="0.0" fill="#fff" />
<rect x="745.0" y="670.0" width="35.0" height="24.0" rx="0.0" fill="#fff" />
<rect x="795.0" y="680.0" width="29.0" height="40.0" rx="0.0" fill="#fff" />
<rect x="850.0" y="680.0" width="29.0" height="40.0" rx="0.0" fill="#fff" /></g>
<polyline points="207.0,139.0 277.0,139.0" stroke="#fff" stroke-width="12.0" stroke-linecap="butt" />
<polyline points="166.5,254.5 166.5,240.0 138.0,196.0" stroke="#fff" stroke-width="11.0" stroke-linecap="round" />
<polyline points="150.0,372.2 229.0,372.2 285.0,316.0 297.0,262.0 308.0,251.0 432.0,251.0" stroke="#fff" stroke-width="11.5" stroke-linecap="round" />
<polyline points="150.0,413.4 272.0,413.4 346.2,342.0" stroke="#fff" stroke-width="11.5" stroke-linecap="round" />
<polyline points="150.0,433.9 303.0,433.9 346.5,477.0" stroke="#fff" stroke-width="11.5" stroke-linecap="round" />
<polyline points="150.0,454.4 282.7,454.4 347.8,519.5" stroke="#fff" stroke-width="11.5" stroke-linecap="round" />
<polyline points="150.0,475.0 256.0,475.0 343.5,562.5" stroke="#fff" stroke-width="11.5" stroke-linecap="round" />
<polyline points="320.0,278.0 432.0,275.6" stroke="#fff" stroke-width="11.0" stroke-linecap="round" />
<polyline points="391.8,305.5 410.0,322.8 432.0,322.8" stroke="#fff" stroke-width="11.0" stroke-linecap="round" />
<polyline points="378.0,86.0 400.0,76.0 474.0,70.0" stroke="#fff" stroke-width="14.0" stroke-linecap="round" />
<polyline points="570.0,70.0 592.0,76.0 610.0,96.0" stroke="#fff" stroke-width="14.0" stroke-linecap="round" />
<polyline points="460.0,222.0 470.0,234.0 477.0,246.0 477.0,352.0 458.0,371.0 432.0,370.0" stroke="#fff" stroke-width="16.0" stroke-linecap="round" />
<polyline points="512.0,180.0 512.0,234.0 505.0,248.0 505.0,330.0 480.0,376.0 466.0,393.6 432.0,393.6" stroke="#fff" stroke-width="11.0" stroke-linecap="round" />
<polyline points="515.0,222.0 529.0,240.0 529.0,318.0 536.0,322.8 548.0,322.8" stroke="#fff" stroke-width="15.0" stroke-linecap="round" />
<polyline points="548.0,346.4 528.0,346.4 509.0,372.0 509.0,430.0" stroke="#fff" stroke-width="10.0" stroke-linecap="round" />
<polyline points="548.0,370.0 538.0,370.0 525.0,392.0 525.0,430.0 541.0,441.0 560.0,455.0 563.5,469.0" stroke="#fff" stroke-width="8.0" stroke-linecap="round" />
<polyline points="432.0,417.2 462.0,419.2 489.0,440.0" stroke="#fff" stroke-width="10.0" stroke-linecap="round" />
<polyline points="432.0,346.4 410.0,346.4 392.0,360.0 365.0,355.0 346.2,342.0" stroke="#fff" stroke-width="10.0" stroke-linecap="round" />
<polyline points="432.0,370.0 402.0,372.0 385.0,384.0 365.0,386.0" stroke="#fff" stroke-width="10.0" stroke-linecap="round" />
<polyline points="432.0,393.6 400.0,394.6 382.0,420.0 365.0,432.0" stroke="#fff" stroke-width="10.0" stroke-linecap="round" />
<polyline points="432.0,417.2 404.0,419.2 385.0,434.0" stroke="#fff" stroke-width="10.0" stroke-linecap="round" />
<polyline points="346.5,477.0 356.0,446.0 365.0,432.0" stroke="#fff" stroke-width="10.0" stroke-linecap="round" />
<polyline points="432.0,299.2 415.0,299.2" stroke="#fff" stroke-width="9.0" stroke-linecap="round" />
<polyline points="675.0,197.0 676.0,232.0 685.0,250.0 678.0,264.0" stroke="#fff" stroke-width="12.0" stroke-linecap="round" />
<polyline points="713.8,260.0 688.0,262.0" stroke="#fff" stroke-width="10.0" stroke-linecap="round" />
<polyline points="728.0,139.2 762.5,139.2" stroke="#fff" stroke-width="6.0" stroke-linecap="round" />
<polyline points="762.5,139.2 904.2,139.2" stroke="#fff" stroke-width="11.0" stroke-linecap="round" />
<polyline points="904.2,139.2 897.5,262.0 893.5,288.0" stroke="#fff" stroke-width="11.0" stroke-linecap="round" />
<polyline points="781.0,288.0 837.5,288.0" stroke="#fff" stroke-width="10.0" stroke-linecap="round" />
<polyline points="713.8,260.0 722.0,260.0 762.0,286.0 781.0,288.0" stroke="#fff" stroke-width="10.0" stroke-linecap="round" />
<polyline points="668.8,348.8 837.5,324.0" stroke="#fff" stroke-width="8.0" stroke-linecap="round" />
<polyline points="717.0,362.0 846.2,353.8" stroke="#fff" stroke-width="9.0" stroke-linecap="round" />
<polyline points="611.0,250.5 578.0,252.0" stroke="#fff" stroke-width="11.0" stroke-linecap="round" />
<polyline points="633.8,288.0 604.0,275.6 578.0,275.6" stroke="#fff" stroke-width="11.0" stroke-linecap="round" />
<polyline points="578.0,299.2 606.0,300.2" stroke="#fff" stroke-width="9.0" stroke-linecap="round" />
<polyline points="578.0,322.8 612.0,322.8 646.0,378.0 726.0,408.0 812.0,414.0 838.0,428.0 850.0,452.0 856.0,520.0 860.0,560.0 878.0,588.0" stroke="#fff" stroke-width="9.0" stroke-linecap="round" />
<polyline points="578.0,346.4 604.0,346.9 634.5,391.4 726.0,427.0 806.0,434.0 828.0,450.0 836.0,474.0 838.0,560.0 824.0,586.0" stroke="#fff" stroke-width="8.0" stroke-linecap="round" />
<polyline points="578.0,370.0 594.0,371.0 622.8,405.0 726.0,446.0 775.0,455.0 800.5,482.5" stroke="#fff" stroke-width="9.0" stroke-linecap="round" />
<polyline points="762.0,591.0 762.0,630.0" stroke="#fff" stroke-width="10.0" stroke-linecap="round" />
<polyline points="902.5,702.5 880.0,697.0 865.0,700.0" stroke="#fff" stroke-width="10.0" stroke-linecap="round" />
<polyline points="883.0,640.0 880.0,697.0" stroke="#fff" stroke-width="10.0" stroke-linecap="round" />
<polyline points="490.0,425.0 490.0,560.0 462.0,588.0 441.0,596.0 441.0,617.0" stroke="#fff" stroke-width="9.0" stroke-linecap="round" />
<polyline points="511.0,425.0 511.0,575.0 508.0,600.0 508.0,735.0 520.0,752.0 545.0,764.0 561.0,766.0" stroke="#fff" stroke-width="11.5" stroke-linecap="round" />
<polyline points="578.0,417.2 592.0,417.2 611.0,433.0 612.5,510.0" stroke="#fff" stroke-width="10.5" stroke-linecap="round" />
<polyline points="578.0,393.6 598.0,394.6 640.0,432.0 646.0,441.0 646.0,556.0 634.0,578.0 629.0,592.0" stroke="#fff" stroke-width="13.0" stroke-linecap="round" />
<circle cx="441.5" cy="553.7" r="6.0" fill="#fff" />
</mask>
<mask id="bm" maskUnits="userSpaceOnUse" x="0" y="0" width="1024" height="921"><rect width="1024" height="921" fill="#000"/>
<rect x="155.5" y="712.6" width="94.5" height="71.4" rx="0.0" fill="#fff" />
<circle cx="100.8" cy="138.8" r="26.0" fill="none" stroke="#fff" stroke-width="5.0" stroke-dasharray="35.8 5" stroke-dashoffset="-2.5"/>
<circle cx="242.5" cy="139.0" r="35.1" fill="#fff" />
<circle cx="762.5" cy="139.2" r="35.1" fill="#fff" />
<circle cx="904.2" cy="139.2" r="32.1" fill="#fff" />
<rect x="92.8" y="209.5" width="52.5" height="90.0" rx="26.2" fill="#fff" />
<rect x="140.2" y="209.5" width="52.5" height="90.0" rx="26.2" fill="#fff" />
<rect x="187.2" y="209.5" width="52.5" height="90.0" rx="26.2" fill="#fff" />
<rect x="754.2" y="244.5" width="53.5" height="87.0" rx="26.8" fill="#fff" />
<rect x="810.8" y="244.5" width="53.5" height="87.0" rx="26.8" fill="#fff" />
<rect x="866.8" y="244.5" width="53.5" height="87.0" rx="26.8" fill="#fff" />
<circle cx="320.0" cy="278.0" r="27.0" fill="#fff" />
<circle cx="391.8" cy="305.5" r="27.0" fill="#fff" />
<circle cx="346.2" cy="342.0" r="27.0" fill="#fff" />
<circle cx="611.0" cy="250.5" r="27.0" fill="#fff" />
<circle cx="633.8" cy="288.0" r="27.0" fill="#fff" />
<circle cx="713.8" cy="260.0" r="27.0" fill="#fff" />
<circle cx="346.5" cy="477.0" r="27.0" fill="#fff" />
<circle cx="347.8" cy="519.5" r="27.0" fill="#fff" />
<circle cx="343.5" cy="562.5" r="27.0" fill="#fff" />
<circle cx="612.5" cy="510.0" r="27.0" fill="#fff" />
<circle cx="762.0" cy="591.0" r="27.0" fill="#fff" />
<circle cx="902.5" cy="702.5" r="27.0" fill="#fff" />
<circle cx="717.0" cy="362.0" r="34.0" fill="#fff" />
<circle cx="846.2" cy="353.8" r="34.0" fill="#fff" />
<circle cx="800.5" cy="482.5" r="34.0" fill="#fff" />
<circle cx="781.8" cy="538.8" r="34.0" fill="#fff" />
<circle cx="921.0" cy="446.2" r="25.5" fill="none" stroke="#fff" stroke-width="5.0" stroke-dasharray="35 5" stroke-dashoffset="-2.5"/>
<rect x="403.0" y="445.2" width="81.0" height="49.0" rx="24.5" fill="#fff" />
<rect x="403.0" y="528.2" width="81.0" height="49.0" rx="24.5" fill="#fff" />
<rect x="521.0" y="445.2" width="81.0" height="49.0" rx="24.5" fill="#fff" />
<rect x="527.5" y="534.8" width="68.0" height="36.0" rx="18.0" fill="#fff" />
<rect x="403.0" y="592.8" width="81.0" height="49.0" rx="24.5" fill="#fff" />
<rect x="409.5" y="682.2" width="68.0" height="36.0" rx="18.0" fill="#fff" />
<rect x="521.0" y="592.8" width="81.0" height="49.0" rx="24.5" fill="#fff" />
<rect x="527.5" y="682.2" width="68.0" height="36.0" rx="18.0" fill="#fff" />
<rect x="403.0" y="740.0" width="81.0" height="49.0" rx="24.5" fill="#fff" />
<rect x="409.5" y="829.5" width="68.0" height="36.0" rx="18.0" fill="#fff" />
<rect x="521.0" y="740.0" width="81.0" height="49.0" rx="24.5" fill="#fff" />
<rect x="527.5" y="829.5" width="68.0" height="36.0" rx="18.0" fill="#fff" />
<rect x="275.5" y="568.0" width="36.0" height="66.0" rx="18.0" fill="#fff" />
<rect x="275.5" y="686.0" width="36.0" height="66.0" rx="18.0" fill="#fff" />
<rect x="353.0" y="561.5" width="49.0" height="79.0" rx="24.5" fill="#fff" />
<rect x="353.0" y="679.5" width="49.0" height="79.0" rx="24.5" fill="#fff" />
<rect x="603.5" y="561.5" width="49.0" height="79.0" rx="24.5" fill="#fff" />
<rect x="603.5" y="679.5" width="49.0" height="79.0" rx="24.5" fill="#fff" />
<rect x="694.0" y="568.0" width="36.0" height="66.0" rx="18.0" fill="#fff" />
<rect x="694.0" y="686.0" width="36.0" height="66.0" rx="18.0" fill="#fff" />
<polyline points="119.0,254.5 117.0,222.0 147.0,196.5 150.0,194.5 598.0,194.5 612.0,207.0 647.0,207.0 655.0,215.0 655.0,252.0 633.8,288.0" stroke="#fff" stroke-width="32.0" stroke-linecap="round" />
<polyline points="243.5,139.0 243.5,194.5" stroke="#fff" stroke-width="26.5" stroke-linecap="butt" />
<polyline points="213.5,254.5 224.0,278.0 262.0,384.0 342.0,464.0 346.5,477.0" stroke="#fff" stroke-width="26.0" stroke-linecap="round" />
<polyline points="320.0,278.0 302.0,300.0 302.0,396.0 340.0,434.0 352.0,446.0" stroke="#fff" stroke-width="26.0" stroke-linecap="round" />
<polyline points="320.0,278.0 350.0,251.0 611.0,250.5" stroke="#fff" stroke-width="29.0" stroke-linecap="round" />
<polyline points="391.8,305.5 399.0,340.0 399.0,588.0 424.0,613.0" stroke="#fff" stroke-width="28.0" stroke-linecap="round" />
<polyline points="346.2,342.0 349.0,306.0" stroke="#fff" stroke-width="26.0" stroke-linecap="round" />
<polyline points="228.0,299.0 263.0,299.0" stroke="#fff" stroke-width="5.0" stroke-linecap="butt" />
<polyline points="228.0,319.5 263.0,319.5" stroke="#fff" stroke-width="6.0" stroke-linecap="butt" />
<polyline points="728.0,139.2 762.5,139.2" stroke="#fff" stroke-width="26.0" stroke-linecap="round" />
<polyline points="762.5,139.2 904.2,139.2" stroke="#fff" stroke-width="33.0" stroke-linecap="round" />
<polyline points="904.2,139.2 897.5,262.0 893.5,288.0" stroke="#fff" stroke-width="33.0" stroke-linecap="round" />
<polyline points="781.0,288.0 837.5,288.0" stroke="#fff" stroke-width="32.0" stroke-linecap="round" />
<polyline points="713.8,260.0 722.0,260.0 762.0,286.0 781.0,288.0" stroke="#fff" stroke-width="10.0" stroke-linecap="round" />
<polyline points="668.8,348.8 837.5,324.0" stroke="#fff" stroke-width="8.0" stroke-linecap="round" />
<polyline points="717.0,362.0 846.2,353.8" stroke="#fff" stroke-width="9.0" stroke-linecap="round" />
<polyline points="846.2,353.8 849.0,421.0 863.0,445.0 873.6,514.6 884.0,556.0 897.0,625.0 902.5,702.5" stroke="#fff" stroke-width="27.0" stroke-linecap="round" />
<polyline points="850.0,362.0 864.0,425.0 878.0,455.0 888.0,515.0 898.0,560.0 906.0,610.0" stroke="#fff" stroke-width="17.0" stroke-linecap="round" />
<polyline points="800.5,482.5 781.8,538.8 762.0,591.0" stroke="#fff" stroke-width="43.0" stroke-linecap="round" />
<polyline points="346.5,477.0 372.0,477.0 394.0,499.5 545.0,499.5" stroke="#fff" stroke-width="17.5" stroke-linecap="round" />
<polyline points="347.8,519.5 380.0,512.0 612.5,510.0" stroke="#fff" stroke-width="17.5" stroke-linecap="round" />
<polyline points="343.5,562.5 365.0,545.0 385.0,524.5 545.0,524.5" stroke="#fff" stroke-width="17.5" stroke-linecap="round" />
<circle cx="717.0" cy="362.0" r="12.0" fill="#000" />
<circle cx="846.2" cy="353.8" r="12.0" fill="#000" />
<circle cx="800.5" cy="482.5" r="12.0" fill="#000" />
<circle cx="781.8" cy="538.8" r="12.0" fill="#000" />
<polyline points="119.0,254.5 117.0,222.0 147.0,196.5 150.0,194.5 598.0,194.5 612.0,207.0 647.0,207.0 655.0,215.0 655.0,252.0 633.8,288.0" stroke="#000" stroke-width="9.0" stroke-linecap="round" />
<polyline points="243.5,139.0 243.5,194.5" stroke="#000" stroke-width="5.5" stroke-linecap="butt" />
<polyline points="213.5,254.5 224.0,278.0 262.0,384.0 342.0,464.0 346.5,477.0" stroke="#000" stroke-width="6.0" stroke-linecap="round" />
<polyline points="320.0,278.0 302.0,300.0 302.0,396.0 340.0,434.0 352.0,446.0" stroke="#000" stroke-width="6.0" stroke-linecap="round" />
<polyline points="320.0,278.0 350.0,251.0 611.0,250.5" stroke="#000" stroke-width="10.0" stroke-linecap="round" />
<polyline points="391.8,305.5 399.0,340.0 399.0,588.0 424.0,613.0" stroke="#000" stroke-width="9.0" stroke-linecap="round" />
<polyline points="346.2,342.0 349.0,306.0" stroke="#000" stroke-width="6.0" stroke-linecap="round" />
<polyline points="762.5,139.2 904.2,139.2" stroke="#000" stroke-width="11.0" stroke-linecap="round" />
<polyline points="904.2,139.2 897.5,262.0 893.5,288.0" stroke="#000" stroke-width="11.0" stroke-linecap="round" />
<polyline points="781.0,288.0 837.5,288.0" stroke="#000" stroke-width="10.0" stroke-linecap="round" />
<polyline points="846.2,353.8 849.0,421.0 863.0,445.0 873.6,514.6 884.0,556.0 897.0,625.0 902.5,702.5" stroke="#000" stroke-width="7.0" stroke-linecap="round" />
<polyline points="850.0,362.0 864.0,425.0 878.0,455.0 888.0,515.0 898.0,560.0 906.0,610.0" stroke="#000" stroke-width="5.0" stroke-linecap="round" />
<polyline points="800.5,482.5 781.8,538.8 762.0,591.0" stroke="#000" stroke-width="22.0" stroke-linecap="round" />
<polyline points="346.5,477.0 372.0,477.0 394.0,499.5 545.0,499.5" stroke="#000" stroke-width="5.5" stroke-linecap="round" />
<polyline points="347.8,519.5 380.0,512.0 612.5,510.0" stroke="#000" stroke-width="5.5" stroke-linecap="round" />
<polyline points="343.5,562.5 365.0,545.0 385.0,524.5 545.0,524.5" stroke="#000" stroke-width="5.5" stroke-linecap="round" />
</mask>
</defs>
<rect x="1.5" y="9" width="1003.5" height="910.5" stroke="#575244" stroke-width="1.4"/>
<g id="bottom">
<g clip-path="url(#cp)">
<g id="bpour">
<path d="M37,46 H968.5 V885 H373 V796 A10,10 0 0 0 363,786 H155.5 V722 A9,9 0 0 0 146.5,712.6 H37 Z" fill="#1896e2"/>
</g>
<g id="bclear">
<rect x="155.5" y="712.6" width="94.5" height="71.4" rx="0.0" fill="#000" />
<circle cx="100.8" cy="138.8" r="26.0" fill="none" stroke="#000" stroke-width="5.0" stroke-dasharray="35.8 5" stroke-dashoffset="-2.5"/>
<circle cx="242.5" cy="139.0" r="35.1" fill="#000" />
<circle cx="762.5" cy="139.2" r="35.1" fill="#000" />
<circle cx="904.2" cy="139.2" r="32.1" fill="#000" />
<rect x="92.8" y="209.5" width="52.5" height="90.0" rx="26.2" fill="#000" />
<rect x="140.2" y="209.5" width="52.5" height="90.0" rx="26.2" fill="#000" />
<rect x="187.2" y="209.5" width="52.5" height="90.0" rx="26.2" fill="#000" />
<rect x="754.2" y="244.5" width="53.5" height="87.0" rx="26.8" fill="#000" />
<rect x="810.8" y="244.5" width="53.5" height="87.0" rx="26.8" fill="#000" />
<rect x="866.8" y="244.5" width="53.5" height="87.0" rx="26.8" fill="#000" />
<circle cx="320.0" cy="278.0" r="27.0" fill="#000" />
<circle cx="391.8" cy="305.5" r="27.0" fill="#000" />
<circle cx="346.2" cy="342.0" r="27.0" fill="#000" />
<circle cx="611.0" cy="250.5" r="27.0" fill="#000" />
<circle cx="633.8" cy="288.0" r="27.0" fill="#000" />
<circle cx="713.8" cy="260.0" r="27.0" fill="#000" />
<circle cx="346.5" cy="477.0" r="27.0" fill="#000" />
<circle cx="347.8" cy="519.5" r="27.0" fill="#000" />
<circle cx="343.5" cy="562.5" r="27.0" fill="#000" />
<circle cx="612.5" cy="510.0" r="27.0" fill="#000" />
<circle cx="762.0" cy="591.0" r="27.0" fill="#000" />
<circle cx="902.5" cy="702.5" r="27.0" fill="#000" />
<circle cx="717.0" cy="362.0" r="34.0" fill="#000" />
<circle cx="846.2" cy="353.8" r="34.0" fill="#000" />
<circle cx="800.5" cy="482.5" r="34.0" fill="#000" />
<circle cx="781.8" cy="538.8" r="34.0" fill="#000" />
<circle cx="921.0" cy="446.2" r="25.5" fill="none" stroke="#000" stroke-width="5.0" stroke-dasharray="35 5" stroke-dashoffset="-2.5"/>
<rect x="403.0" y="445.2" width="81.0" height="49.0" rx="24.5" fill="#000" />
<rect x="403.0" y="528.2" width="81.0" height="49.0" rx="24.5" fill="#000" />
<rect x="521.0" y="445.2" width="81.0" height="49.0" rx="24.5" fill="#000" />
<rect x="527.5" y="534.8" width="68.0" height="36.0" rx="18.0" fill="#000" />
<rect x="403.0" y="592.8" width="81.0" height="49.0" rx="24.5" fill="#000" />
<rect x="409.5" y="682.2" width="68.0" height="36.0" rx="18.0" fill="#000" />
<rect x="521.0" y="592.8" width="81.0" height="49.0" rx="24.5" fill="#000" />
<rect x="527.5" y="682.2" width="68.0" height="36.0" rx="18.0" fill="#000" />
<rect x="403.0" y="740.0" width="81.0" height="49.0" rx="24.5" fill="#000" />
<rect x="409.5" y="829.5" width="68.0" height="36.0" rx="18.0" fill="#000" />
<rect x="521.0" y="740.0" width="81.0" height="49.0" rx="24.5" fill="#000" />
<rect x="527.5" y="829.5" width="68.0" height="36.0" rx="18.0" fill="#000" />
<rect x="275.5" y="568.0" width="36.0" height="66.0" rx="18.0" fill="#000" />
<rect x="275.5" y="686.0" width="36.0" height="66.0" rx="18.0" fill="#000" />
<rect x="353.0" y="561.5" width="49.0" height="79.0" rx="24.5" fill="#000" />
<rect x="353.0" y="679.5" width="49.0" height="79.0" rx="24.5" fill="#000" />
<rect x="603.5" y="561.5" width="49.0" height="79.0" rx="24.5" fill="#000" />
<rect x="603.5" y="679.5" width="49.0" height="79.0" rx="24.5" fill="#000" />
<rect x="694.0" y="568.0" width="36.0" height="66.0" rx="18.0" fill="#000" />
<rect x="694.0" y="686.0" width="36.0" height="66.0" rx="18.0" fill="#000" />
<polyline points="119.0,254.5 117.0,222.0 147.0,196.5 150.0,194.5 598.0,194.5 612.0,207.0 647.0,207.0 655.0,215.0 655.0,252.0 633.8,288.0" stroke="#000" stroke-width="32.0" stroke-linecap="round" />
<polyline points="243.5,139.0 243.5,194.5" stroke="#000" stroke-width="26.5" stroke-linecap="butt" />
<polyline points="213.5,254.5 224.0,278.0 262.0,384.0 342.0,464.0 346.5,477.0" stroke="#000" stroke-width="26.0" stroke-linecap="round" />
<polyline points="320.0,278.0 302.0,300.0 302.0,396.0 340.0,434.0 352.0,446.0" stroke="#000" stroke-width="26.0" stroke-linecap="round" />
<polyline points="320.0,278.0 350.0,251.0 611.0,250.5" stroke="#000" stroke-width="29.0" stroke-linecap="round" />
<polyline points="391.8,305.5 399.0,340.0 399.0,588.0 424.0,613.0" stroke="#000" stroke-width="28.0" stroke-linecap="round" />
<polyline points="346.2,342.0 349.0,306.0" stroke="#000" stroke-width="26.0" stroke-linecap="round" />
<polyline points="228.0,299.0 263.0,299.0" stroke="#000" stroke-width="5.0" stroke-linecap="butt" />
<polyline points="228.0,319.5 263.0,319.5" stroke="#000" stroke-width="6.0" stroke-linecap="butt" />
<polyline points="728.0,139.2 762.5,139.2" stroke="#000" stroke-width="26.0" stroke-linecap="round" />
<polyline points="762.5,139.2 904.2,139.2" stroke="#000" stroke-width="33.0" stroke-linecap="round" />
<polyline points="904.2,139.2 897.5,262.0 893.5,288.0" stroke="#000" stroke-width="33.0" stroke-linecap="round" />
<polyline points="781.0,288.0 837.5,288.0" stroke="#000" stroke-width="32.0" stroke-linecap="round" />
<polyline points="713.8,260.0 722.0,260.0 762.0,286.0 781.0,288.0" stroke="#000" stroke-width="10.0" stroke-linecap="round" />
<polyline points="668.8,348.8 837.5,324.0" stroke="#000" stroke-width="8.0" stroke-linecap="round" />
<polyline points="717.0,362.0 846.2,353.8" stroke="#000" stroke-width="9.0" stroke-linecap="round" />
<polyline points="846.2,353.8 849.0,421.0 863.0,445.0 873.6,514.6 884.0,556.0 897.0,625.0 902.5,702.5" stroke="#000" stroke-width="27.0" stroke-linecap="round" />
<polyline points="850.0,362.0 864.0,425.0 878.0,455.0 888.0,515.0 898.0,560.0 906.0,610.0" stroke="#000" stroke-width="17.0" stroke-linecap="round" />
<polyline points="800.5,482.5 781.8,538.8 762.0,591.0" stroke="#000" stroke-width="43.0" stroke-linecap="round" />
<polyline points="346.5,477.0 372.0,477.0 394.0,499.5 545.0,499.5" stroke="#000" stroke-width="17.5" stroke-linecap="round" />
<polyline points="347.8,519.5 380.0,512.0 612.5,510.0" stroke="#000" stroke-width="17.5" stroke-linecap="round" />
<polyline points="343.5,562.5 365.0,545.0 385.0,524.5 545.0,524.5" stroke="#000" stroke-width="17.5" stroke-linecap="round" />
</g>
</g>
<g id="btrace">
<circle cx="717.0" cy="362.0" r="12.0" fill="#1896e2" />
<circle cx="846.2" cy="353.8" r="12.0" fill="#1896e2" />
<circle cx="800.5" cy="482.5" r="12.0" fill="#1896e2" />
<circle cx="781.8" cy="538.8" r="12.0" fill="#1896e2" />
<polyline points="119.0,254.5 117.0,222.0 147.0,196.5 150.0,194.5 598.0,194.5 612.0,207.0 647.0,207.0 655.0,215.0 655.0,252.0 633.8,288.0" stroke="#1896e2" stroke-width="9.0" stroke-linecap="round" />
<polyline points="243.5,139.0 243.5,194.5" stroke="#1896e2" stroke-width="5.5" stroke-linecap="butt" />
<polyline points="213.5,254.5 224.0,278.0 262.0,384.0 342.0,464.0 346.5,477.0" stroke="#1896e2" stroke-width="6.0" stroke-linecap="round" />
<polyline points="320.0,278.0 302.0,300.0 302.0,396.0 340.0,434.0 352.0,446.0" stroke="#1896e2" stroke-width="6.0" stroke-linecap="round" />
<polyline points="320.0,278.0 350.0,251.0 611.0,250.5" stroke="#1896e2" stroke-width="10.0" stroke-linecap="round" />
<polyline points="391.8,305.5 399.0,340.0 399.0,588.0 424.0,613.0" stroke="#1896e2" stroke-width="9.0" stroke-linecap="round" />
<polyline points="346.2,342.0 349.0,306.0" stroke="#1896e2" stroke-width="6.0" stroke-linecap="round" />
<polyline points="762.5,139.2 904.2,139.2" stroke="#1896e2" stroke-width="11.0" stroke-linecap="round" />
<polyline points="904.2,139.2 897.5,262.0 893.5,288.0" stroke="#1896e2" stroke-width="11.0" stroke-linecap="round" />
<polyline points="781.0,288.0 837.5,288.0" stroke="#1896e2" stroke-width="10.0" stroke-linecap="round" />
<polyline points="846.2,353.8 849.0,421.0 863.0,445.0 873.6,514.6 884.0,556.0 897.0,625.0 902.5,702.5" stroke="#1896e2" stroke-width="7.0" stroke-linecap="round" />
<polyline points="850.0,362.0 864.0,425.0 878.0,455.0 888.0,515.0 898.0,560.0 906.0,610.0" stroke="#1896e2" stroke-width="5.0" stroke-linecap="round" />
<polyline points="800.5,482.5 781.8,538.8 762.0,591.0" stroke="#1896e2" stroke-width="22.0" stroke-linecap="round" />
<polyline points="346.5,477.0 372.0,477.0 394.0,499.5 545.0,499.5" stroke="#1896e2" stroke-width="5.5" stroke-linecap="round" />
<polyline points="347.8,519.5 380.0,512.0 612.5,510.0" stroke="#1896e2" stroke-width="5.5" stroke-linecap="round" />
<polyline points="343.5,562.5 365.0,545.0 385.0,524.5 545.0,524.5" stroke="#1896e2" stroke-width="5.5" stroke-linecap="round" />
<text x="0" y="0" font-size="46.8" fill="#1896e2" stroke="#1896e2" transform="translate(225.5,780) scale(-1,1)" textLength="170" lengthAdjust="spacingAndGlyphs" font-family="DejaVu Sans Light, DejaVu Sans, sans-serif" font-weight="200" stroke-width="1.1">bottom</text>
<text x="0" y="0" font-size="56.2" fill="#1896e2" stroke="#1896e2" transform="translate(341,860.6) scale(-1,1)" textLength="284" lengthAdjust="spacingAndGlyphs" font-family="DejaVu Sans Light, DejaVu Sans, sans-serif" font-weight="200" stroke-width="1.1">BabyBeat</text>
</g>
</g>
<g id="via" opacity="0.88">
<circle cx="320.0" cy="278.0" r="16.5" fill="#55fbb9" />
<circle cx="391.8" cy="305.5" r="16.5" fill="#55fbb9" />
<circle cx="346.2" cy="342.0" r="16.5" fill="#55fbb9" />
<circle cx="611.0" cy="250.5" r="16.5" fill="#55fbb9" />
<circle cx="633.8" cy="288.0" r="16.5" fill="#55fbb9" />
<circle cx="713.8" cy="260.0" r="16.5" fill="#55fbb9" />
<circle cx="346.5" cy="477.0" r="16.5" fill="#55fbb9" />
<circle cx="347.8" cy="519.5" r="16.5" fill="#55fbb9" />
<circle cx="343.5" cy="562.5" r="16.5" fill="#55fbb9" />
<circle cx="612.5" cy="510.0" r="16.5" fill="#55fbb9" />
<circle cx="762.0" cy="591.0" r="16.5" fill="#55fbb9" />
<circle cx="902.5" cy="702.5" r="16.5" fill="#55fbb9" />
<circle cx="668.8" cy="348.8" r="16.5" fill="#55fbb9" />
</g>
<g id="top" opacity="0.82">
<g mask="url(#tm)"><path d="M37,46 H968.5 V885 H373 V796 A10,10 0 0 0 363,786 H155.5 V722 A9,9 0 0 0 146.5,712.6 H37 Z" fill="#f60a14"/></g>
<g clip-path="url(#cp)"><g id="tpad" mask="url(#tm2)">
<rect x="80.0" y="82.0" width="149.0" height="115.0" rx="0.0" fill="#f60a14" />
<rect x="776.0" y="82.0" width="149.0" height="114.0" rx="0.0" fill="#f60a14" />
<rect x="331.0" y="36.0" width="47.0" height="77.0" rx="0.0" fill="#f60a14" />
<rect x="353.0" y="160.0" width="4.0" height="10.0" rx="0.0" fill="#f60a14" />
<rect x="474.0" y="52.0" width="28.0" height="35.0" rx="0.0" fill="#f60a14" />
<rect x="542.0" y="52.0" width="28.0" height="35.0" rx="0.0" fill="#f60a14" />
<rect x="495.0" y="105.0" width="36.0" height="49.0" rx="0.0" fill="#f60a14" />
<rect x="606.0" y="86.0" width="115.0" height="38.0" rx="0.0" fill="#f60a14" />
<rect x="606.0" y="157.5" width="115.0" height="40.0" rx="0.0" fill="#f60a14" />
<rect x="125.0" y="344.5" width="28.0" height="14.4" rx="0.0" fill="#f60a14" />
<rect x="125.0" y="365.1" width="28.0" height="14.4" rx="0.0" fill="#f60a14" />
<rect x="125.0" y="385.6" width="28.0" height="14.4" rx="0.0" fill="#f60a14" />
<rect x="125.0" y="406.2" width="28.0" height="14.4" rx="0.0" fill="#f60a14" />
<rect x="125.0" y="426.7" width="28.0" height="14.4" rx="0.0" fill="#f60a14" />
<rect x="125.0" y="447.2" width="28.0" height="14.4" rx="0.0" fill="#f60a14" />
<rect x="125.0" y="467.8" width="28.0" height="14.4" rx="0.0" fill="#f60a14" />
<rect x="125.0" y="488.3" width="28.0" height="14.4" rx="0.0" fill="#f60a14" />
<rect x="59.0" y="296.0" width="37.0" height="26.5" rx="0.0" fill="#f60a14" />
<rect x="57.0" y="547.0" width="39.5" height="29.0" rx="0.0" fill="#f60a14" />
<rect x="223.5" y="547.0" width="41.1" height="29.0" rx="0.0" fill="#f60a14" />
<rect x="45.0" y="305.0" width="15.0" height="8.0" rx="0.0" fill="#f60a14" />
<rect x="95.0" y="305.0" width="13.0" height="8.0" rx="0.0" fill="#f60a14" />
<rect x="45.0" y="557.0" width="13.0" height="8.0" rx="0.0" fill="#f60a14" />
<rect x="95.5" y="557.0" width="12.5" height="8.0" rx="0.0" fill="#f60a14" />
<rect x="212.0" y="557.0" width="12.5" height="8.0" rx="0.0" fill="#f60a14" />
<rect x="264.0" y="557.0" width="12.0" height="8.0" rx="0.0" fill="#f60a14" />
<rect x="426.0" y="247.0" width="31.0" height="10.0" rx="0.0" fill="#f60a14" />
<rect x="548.0" y="247.0" width="32.0" height="10.0" rx="0.0" fill="#f60a14" />
<rect x="426.0" y="270.6" width="31.0" height="10.0" rx="0.0" fill="#f60a14" />
<rect x="548.0" y="270.6" width="32.0" height="10.0" rx="0.0" fill="#f60a14" />
<rect x="426.0" y="294.2" width="31.0" height="10.0" rx="0.0" fill="#f60a14" />
<rect x="548.0" y="294.2" width="32.0" height="10.0" rx="0.0" fill="#f60a14" />
<rect x="426.0" y="317.8" width="31.0" height="10.0" rx="0.0" fill="#f60a14" />
<rect x="548.0" y="317.8" width="32.0" height="10.0" rx="0.0" fill="#f60a14" />
<rect x="426.0" y="341.4" width="31.0" height="10.0" rx="0.0" fill="#f60a14" />
<rect x="548.0" y="341.4" width="32.0" height="10.0" rx="0.0" fill="#f60a14" />
<rect x="426.0" y="365.0" width="31.0" height="10.0" rx="0.0" fill="#f60a14" />
<rect x="548.0" y="365.0" width="32.0" height="10.0" rx="0.0" fill="#f60a14" />
<rect x="426.0" y="388.6" width="31.0" height="10.0" rx="0.0" fill="#f60a14" />
<rect x="548.0" y="388.6" width="32.0" height="10.0" rx="0.0" fill="#f60a14" />
<rect x="426.0" y="412.2" width="31.0" height="10.0" rx="0.0" fill="#f60a14" />
<rect x="548.0" y="412.2" width="32.0" height="10.0" rx="0.0" fill="#f60a14" />
<rect x="495.0" y="92.0" width="36.0" height="62.0" rx="0.0" fill="#f60a14" />
<rect x="480.0" y="164.0" width="15.0" height="24.0" rx="0.0" fill="#f60a14" />
<rect x="504.0" y="164.0" width="18.0" height="28.0" rx="0.0" fill="#f60a14" />
<rect x="533.0" y="164.0" width="15.0" height="24.0" rx="0.0" fill="#f60a14" />
<rect x="446.5" y="198.0" width="27.0" height="29.0" rx="0.0" fill="#f60a14" />
<rect x="497.5" y="198.0" width="27.0" height="29.0" rx="0.0" fill="#f60a14" />
<rect x="350.0" y="379.0" width="30.0" height="16.0" rx="0.0" fill="#f60a14" />
<rect x="350.0" y="423.0" width="30.0" height="19.0" rx="0.0" fill="#f60a14" />
<rect x="659.5" y="256.0" width="30.0" height="20.0" rx="0.0" fill="#f60a14" />
<rect x="659.5" y="300.0" width="30.0" height="20.0" rx="0.0" fill="#f60a14" />
<rect x="798.0" y="582.5" width="35.0" height="25.0" rx="0.0" fill="#f60a14" />
<rect x="798.0" y="629.0" width="35.0" height="23.5" rx="0.0" fill="#f60a14" />
<rect x="866.0" y="582.5" width="35.0" height="25.0" rx="0.0" fill="#f60a14" />
<rect x="866.0" y="629.0" width="35.0" height="23.5" rx="0.0" fill="#f60a14" />
<rect x="745.0" y="622.0" width="35.0" height="24.0" rx="0.0" fill="#f60a14" />
<rect x="745.0" y="670.0" width="35.0" height="24.0" rx="0.0" fill="#f60a14" />
<rect x="795.0" y="680.0" width="29.0" height="40.0" rx="0.0" fill="#f60a14" />
<rect x="850.0" y="680.0" width="29.0" height="40.0" rx="0.0" fill="#f60a14" />
</g>
</g><g id="ttrace">
<polyline points="207.0,139.0 277.0,139.0" stroke="#f60a14" stroke-width="12.0" stroke-linecap="butt" />
<polyline points="166.5,254.5 166.5,240.0 138.0,196.0" stroke="#f60a14" stroke-width="11.0" stroke-linecap="round" />
<polyline points="150.0,372.2 229.0,372.2 285.0,316.0 297.0,262.0 308.0,251.0 432.0,251.0" stroke="#f60a14" stroke-width="11.5" stroke-linecap="round" />
<polyline points="150.0,413.4 272.0,413.4 346.2,342.0" stroke="#f60a14" stroke-width="11.5" stroke-linecap="round" />
<polyline points="150.0,433.9 303.0,433.9 346.5,477.0" stroke="#f60a14" stroke-width="11.5" stroke-linecap="round" />
<polyline points="150.0,454.4 282.7,454.4 347.8,519.5" stroke="#f60a14" stroke-width="11.5" stroke-linecap="round" />
<polyline points="150.0,475.0 256.0,475.0 343.5,562.5" stroke="#f60a14" stroke-width="11.5" stroke-linecap="round" />
<polyline points="320.0,278.0 432.0,275.6" stroke="#f60a14" stroke-width="11.0" stroke-linecap="round" />
<polyline points="391.8,305.5 410.0,322.8 432.0,322.8" stroke="#f60a14" stroke-width="11.0" stroke-linecap="round" />
<polyline points="378.0,86.0 400.0,76.0 474.0,70.0" stroke="#f60a14" stroke-width="14.0" stroke-linecap="round" />
<polyline points="570.0,70.0 592.0,76.0 610.0,96.0" stroke="#f60a14" stroke-width="14.0" stroke-linecap="round" />
<polyline points="460.0,222.0 470.0,234.0 477.0,246.0 477.0,352.0 458.0,371.0 432.0,370.0" stroke="#f60a14" stroke-width="16.0" stroke-linecap="round" />
<polyline points="512.0,180.0 512.0,234.0 505.0,248.0 505.0,330.0 480.0,376.0 466.0,393.6 432.0,393.6" stroke="#f60a14" stroke-width="11.0" stroke-linecap="round" />
<polyline points="515.0,222.0 529.0,240.0 529.0,318.0 536.0,322.8 548.0,322.8" stroke="#f60a14" stroke-width="15.0" stroke-linecap="round" />
<polyline points="548.0,346.4 528.0,346.4 509.0,372.0 509.0,430.0" stroke="#f60a14" stroke-width="10.0" stroke-linecap="round" />
<polyline points="548.0,370.0 538.0,370.0 525.0,392.0 525.0,430.0 541.0,441.0 560.0,455.0 563.5,469.0" stroke="#f60a14" stroke-width="8.0" stroke-linecap="round" />
<polyline points="432.0,417.2 462.0,419.2 489.0,440.0" stroke="#f60a14" stroke-width="10.0" stroke-linecap="round" />
<polyline points="432.0,346.4 410.0,346.4 392.0,360.0 365.0,355.0 346.2,342.0" stroke="#f60a14" stroke-width="10.0" stroke-linecap="round" />
<polyline points="432.0,370.0 402.0,372.0 385.0,384.0 365.0,386.0" stroke="#f60a14" stroke-width="10.0" stroke-linecap="round" />
<polyline points="432.0,393.6 400.0,394.6 382.0,420.0 365.0,432.0" stroke="#f60a14" stroke-width="10.0" stroke-linecap="round" />
<polyline points="432.0,417.2 404.0,419.2 385.0,434.0" stroke="#f60a14" stroke-width="10.0" stroke-linecap="round" />
<polyline points="346.5,477.0 356.0,446.0 365.0,432.0" stroke="#f60a14" stroke-width="10.0" stroke-linecap="round" />
<polyline points="432.0,299.2 415.0,299.2" stroke="#f60a14" stroke-width="9.0" stroke-linecap="round" />
<polyline points="675.0,197.0 676.0,232.0 685.0,250.0 678.0,264.0" stroke="#f60a14" stroke-width="12.0" stroke-linecap="round" />
<polyline points="713.8,260.0 688.0,262.0" stroke="#f60a14" stroke-width="10.0" stroke-linecap="round" />
<polyline points="728.0,139.2 762.5,139.2" stroke="#f60a14" stroke-width="6.0" stroke-linecap="round" />
<polyline points="762.5,139.2 904.2,139.2" stroke="#f60a14" stroke-width="11.0" stroke-linecap="round" />
<polyline points="904.2,139.2 897.5,262.0 893.5,288.0" stroke="#f60a14" stroke-width="11.0" stroke-linecap="round" />
<polyline points="781.0,288.0 837.5,288.0" stroke="#f60a14" stroke-width="10.0" stroke-linecap="round" />
<polyline points="713.8,260.0 722.0,260.0 762.0,286.0 781.0,288.0" stroke="#f60a14" stroke-width="10.0" stroke-linecap="round" />
<polyline points="668.8,348.8 837.5,324.0" stroke="#f60a14" stroke-width="8.0" stroke-linecap="round" />
<polyline points="717.0,362.0 846.2,353.8" stroke="#f60a14" stroke-width="9.0" stroke-linecap="round" />
<polyline points="611.0,250.5 578.0,252.0" stroke="#f60a14" stroke-width="11.0" stroke-linecap="round" />
<polyline points="633.8,288.0 604.0,275.6 578.0,275.6" stroke="#f60a14" stroke-width="11.0" stroke-linecap="round" />
<polyline points="578.0,299.2 606.0,300.2" stroke="#f60a14" stroke-width="9.0" stroke-linecap="round" />
<polyline points="578.0,322.8 612.0,322.8 646.0,378.0 726.0,408.0 812.0,414.0 838.0,428.0 850.0,452.0 856.0,520.0 860.0,560.0 878.0,588.0" stroke="#f60a14" stroke-width="9.0" stroke-linecap="round" />
<polyline points="578.0,346.4 604.0,346.9 634.5,391.4 726.0,427.0 806.0,434.0 828.0,450.0 836.0,474.0 838.0,560.0 824.0,586.0" stroke="#f60a14" stroke-width="8.0" stroke-linecap="round" />
<polyline points="578.0,370.0 594.0,371.0 622.8,405.0 726.0,446.0 775.0,455.0 800.5,482.5" stroke="#f60a14" stroke-width="9.0" stroke-linecap="round" />
<polyline points="762.0,591.0 762.0,630.0" stroke="#f60a14" stroke-width="10.0" stroke-linecap="round" />
<polyline points="902.5,702.5 880.0,697.0 865.0,700.0" stroke="#f60a14" stroke-width="10.0" stroke-linecap="round" />
<polyline points="883.0,640.0 880.0,697.0" stroke="#f60a14" stroke-width="10.0" stroke-linecap="round" />
<polyline points="490.0,425.0 490.0,560.0 462.0,588.0 441.0,596.0 441.0,617.0" stroke="#f60a14" stroke-width="9.0" stroke-linecap="round" />
<polyline points="511.0,425.0 511.0,575.0 508.0,600.0 508.0,735.0 520.0,752.0 545.0,764.0 561.0,766.0" stroke="#f60a14" stroke-width="11.5" stroke-linecap="round" />
<polyline points="578.0,417.2 592.0,417.2 611.0,433.0 612.5,510.0" stroke="#f60a14" stroke-width="10.5" stroke-linecap="round" />
<polyline points="578.0,393.6 598.0,394.6 640.0,432.0 646.0,441.0 646.0,556.0 634.0,578.0 629.0,592.0" stroke="#f60a14" stroke-width="13.0" stroke-linecap="round" />
<circle cx="441.5" cy="553.7" r="6.0" fill="#f60a14" />
</g>
</g>
<g clip-path="url(#cp)"><g mask="url(#tm3)"><g mask="url(#bm)"><rect width="1024" height="921" fill="#ff1a2c" opacity="0.42"/></g></g></g>
<g id="pad" opacity="0.88">
<circle cx="100.8" cy="138.8" r="19.5" fill="none" stroke="#55fbb9" stroke-width="8.3" opacity="0.93"/>
<circle cx="242.5" cy="139.0" r="19.5" fill="none" stroke="#55fbb9" stroke-width="8.3" opacity="0.93"/>
<circle cx="762.5" cy="139.2" r="19.5" fill="none" stroke="#55fbb9" stroke-width="8.3" opacity="0.93"/>
<circle cx="904.2" cy="139.2" r="19.5" fill="none" stroke="#55fbb9" stroke-width="8.3" opacity="0.93"/>
<rect x="102.0" y="219.5" width="34.0" height="70.0" rx="17.0" fill="#55fbb9" />
<rect x="149.5" y="219.5" width="34.0" height="70.0" rx="17.0" fill="#55fbb9" />
<rect x="196.5" y="219.5" width="34.0" height="70.0" rx="17.0" fill="#55fbb9" />
<rect x="764.8" y="255.0" width="32.5" height="66.0" rx="16.2" fill="#55fbb9" />
<rect x="821.2" y="255.0" width="32.5" height="66.0" rx="16.2" fill="#55fbb9" />
<rect x="877.2" y="255.0" width="32.5" height="66.0" rx="16.2" fill="#55fbb9" />
<circle cx="717.0" cy="362.0" r="17.2" fill="none" stroke="#55fbb9" stroke-width="12.5" opacity="0.93"/>
<circle cx="846.2" cy="353.8" r="17.2" fill="none" stroke="#55fbb9" stroke-width="12.5" opacity="0.93"/>
<circle cx="800.5" cy="482.5" r="17.2" fill="none" stroke="#55fbb9" stroke-width="12.5" opacity="0.93"/>
<circle cx="781.8" cy="538.8" r="17.2" fill="none" stroke="#55fbb9" stroke-width="12.5" opacity="0.93"/>
<circle cx="921.0" cy="446.2" r="16.8" fill="none" stroke="#55fbb9" stroke-width="12.4" opacity="0.93"/>
<rect x="413.5" y="455.8" width="60.0" height="28.0" rx="14.0" fill="#55fbb9" />
<rect x="413.5" y="538.8" width="60.0" height="28.0" rx="14.0" fill="#55fbb9" />
<rect x="531.5" y="455.8" width="60.0" height="28.0" rx="14.0" fill="#55fbb9" />
<rect x="531.5" y="538.8" width="60.0" height="28.0" rx="14.0" fill="#55fbb9" />
<rect x="413.5" y="603.2" width="60.0" height="28.0" rx="14.0" fill="#55fbb9" />
<rect x="413.5" y="686.2" width="60.0" height="28.0" rx="14.0" fill="#55fbb9" />
<rect x="531.5" y="603.2" width="60.0" height="28.0" rx="14.0" fill="#55fbb9" />
<rect x="531.5" y="686.2" width="60.0" height="28.0" rx="14.0" fill="#55fbb9" />
<rect x="413.5" y="750.5" width="60.0" height="28.0" rx="14.0" fill="#55fbb9" />
<rect x="413.5" y="833.5" width="60.0" height="28.0" rx="14.0" fill="#55fbb9" />
<rect x="531.5" y="750.5" width="60.0" height="28.0" rx="14.0" fill="#55fbb9" />
<rect x="531.5" y="833.5" width="60.0" height="28.0" rx="14.0" fill="#55fbb9" />
<rect x="279.5" y="572.0" width="28.0" height="58.0" rx="14.0" fill="#55fbb9" />
<rect x="279.5" y="690.0" width="28.0" height="58.0" rx="14.0" fill="#55fbb9" />
<rect x="363.5" y="572.0" width="28.0" height="58.0" rx="14.0" fill="#55fbb9" />
<rect x="363.5" y="690.0" width="28.0" height="58.0" rx="14.0" fill="#55fbb9" />
<rect x="614.0" y="572.0" width="28.0" height="58.0" rx="14.0" fill="#55fbb9" />
<rect x="614.0" y="690.0" width="28.0" height="58.0" rx="14.0" fill="#55fbb9" />
<rect x="698.0" y="572.0" width="28.0" height="58.0" rx="14.0" fill="#55fbb9" />
<rect x="698.0" y="690.0" width="28.0" height="58.0" rx="14.0" fill="#55fbb9" />
</g>
<g id="hole">
<circle cx="100.8" cy="138.8" r="15.6" fill="#1896e2" />
<polyline points="100.8,138.8 116.0,138.8" stroke="#d6202e" stroke-width="7.0" stroke-linecap="butt" />
<polyline points="100.8,123.5 100.8,154.0" stroke="#d6202e" stroke-width="2.0" stroke-linecap="butt" />
<polyline points="85.5,138.8 100.0,138.8" stroke="#d6202e" stroke-width="2.0" stroke-linecap="butt" />
<circle cx="100.8" cy="138.8" r="4.5" fill="#d6202e" />
<circle cx="119.0" cy="254.5" r="10.5" fill="#000" />
<circle cx="119.0" cy="254.5" r="8.0" fill="#1896e2" />
<rect x="113.8" y="249.3" width="10.4" height="10.4" rx="0.0" fill="#eef4ff" />
<circle cx="166.5" cy="254.5" r="10.5" fill="#000" />
<circle cx="166.5" cy="254.5" r="8.0" fill="#d2202e" />
<rect x="161.3" y="249.3" width="10.4" height="10.4" rx="0.0" fill="#f6b9bd" />
<circle cx="213.5" cy="254.5" r="10.5" fill="#000" />
<circle cx="213.5" cy="254.5" r="8.0" fill="#1896e2" />
<rect x="208.3" y="249.3" width="10.4" height="10.4" rx="0.0" fill="#eef4ff" />
<circle cx="781.0" cy="288.0" r="10.0" fill="#000" />
<circle cx="837.5" cy="288.0" r="10.0" fill="#000" />
<circle cx="893.5" cy="288.0" r="10.0" fill="#000" />
<circle cx="668.8" cy="348.8" r="16.5" fill="#e0423c" opacity="0.9"/>
<circle cx="668.8" cy="348.8" r="2.2" fill="#c92a3c" />
<circle cx="921.0" cy="446.2" r="11.0" fill="#1896e2" />
<polyline points="910.0,446.2 932.0,446.2" stroke="#d6202e" stroke-width="2.5" stroke-linecap="butt" />
<polyline points="921.0,435.0 921.0,457.0" stroke="#d6202e" stroke-width="2.5" stroke-linecap="butt" />
<circle cx="439.5" cy="469.8" r="6.0" fill="#1896e2" />
<circle cx="439.5" cy="552.8" r="6.0" fill="#1896e2" />
<circle cx="565.5" cy="469.8" r="6.0" fill="#1896e2" />
<circle cx="565.5" cy="552.8" r="6.0" fill="#1896e2" />
<circle cx="439.5" cy="617.2" r="6.0" fill="#1896e2" />
<circle cx="439.5" cy="700.2" r="6.0" fill="#1896e2" />
<circle cx="565.5" cy="617.2" r="6.0" fill="#1896e2" />
<circle cx="565.5" cy="700.2" r="6.0" fill="#1896e2" />
<circle cx="439.5" cy="764.5" r="6.0" fill="#1896e2" />
<circle cx="439.5" cy="847.5" r="6.0" fill="#1896e2" />
<circle cx="565.5" cy="764.5" r="6.0" fill="#1896e2" />
<circle cx="565.5" cy="847.5" r="6.0" fill="#1896e2" />
<circle cx="293.5" cy="604.0" r="6.0" fill="#1896e2" />
<circle cx="293.5" cy="716.0" r="6.0" fill="#1896e2" />
<circle cx="377.5" cy="604.0" r="6.0" fill="#1896e2" />
<circle cx="377.5" cy="716.0" r="6.0" fill="#1896e2" />
<circle cx="628.0" cy="604.0" r="6.0" fill="#1896e2" />
<circle cx="628.0" cy="716.0" r="6.0" fill="#1896e2" />
<circle cx="712.0" cy="604.0" r="6.0" fill="#1896e2" />
<circle cx="712.0" cy="716.0" r="6.0" fill="#1896e2" />
<text x="52" y="780" font-size="46.8" fill="#de0c18" stroke="#de0c18" textLength="74" lengthAdjust="spacingAndGlyphs" font-family="DejaVu Sans Light, DejaVu Sans, sans-serif" font-weight="200" stroke-width="1.1">top</text>
<text x="57.3" y="860.6" font-size="56.2" fill="#de0c18" stroke="#de0c18" textLength="279.5" lengthAdjust="spacingAndGlyphs" font-family="DejaVu Sans Light, DejaVu Sans, sans-serif" font-weight="200" stroke-width="1.1">BabyBeat</text>
</g>
<g id="silk">
<polyline points="76.0,45.0 928.0,45.0" stroke="#fff" opacity="0.95" stroke-width="1.8" stroke-linecap="butt" />
<polyline points="76.0,234.0 928.0,234.0" stroke="#fff" opacity="0.95" stroke-width="1.8" stroke-linecap="butt" />
<rect x="66.5" y="68.5" width="176.0" height="141.5" rx="0.0" fill="none" stroke="#fff" opacity="0.95" stroke-width="4.0" />
<rect x="762.5" y="69.0" width="176.0" height="141.0" rx="0.0" fill="none" stroke="#fff" opacity="0.95" stroke-width="4.0" />
<polyline points="95.5,241.0 95.5,268.0" stroke="#fff" opacity="0.95" stroke-width="3.0" stroke-linecap="round" />
<polyline points="237.0,241.0 237.0,268.0" stroke="#fff" opacity="0.95" stroke-width="3.0" stroke-linecap="round" />
<path d="M737.5,250 H832 L837.5,256 L843,250 H938 V326 H843 L837.5,320 L832,326 H737.5 Z" stroke="#fff" opacity="0.85" stroke-width="2.6"/>
<rect x="795.5" y="270.5" width="84.5" height="36.0" rx="0.0" fill="none" stroke="#fff" opacity="0.95" stroke-width="2.5" />
<rect x="846.0" y="271.0" width="34.0" height="35.0" rx="0.0" fill="#fff" />
<polyline points="850.5,272.0 850.5,305.0" stroke="#000" stroke-width="1.1" stroke-linecap="butt" />
<polyline points="854.9,272.0 854.9,305.0" stroke="#000" stroke-width="1.1" stroke-linecap="butt" />
<polyline points="859.3,272.0 859.3,305.0" stroke="#000" stroke-width="1.1" stroke-linecap="butt" />
<polyline points="863.7,272.0 863.7,305.0" stroke="#000" stroke-width="1.1" stroke-linecap="butt" />
<polyline points="868.1,272.0 868.1,305.0" stroke="#000" stroke-width="1.1" stroke-linecap="butt" />
<polyline points="872.5,272.0 872.5,305.0" stroke="#000" stroke-width="1.1" stroke-linecap="butt" />
<polyline points="876.9,272.0 876.9,305.0" stroke="#000" stroke-width="1.1" stroke-linecap="butt" />
<path d="M697.5,345 H956 V393 H1020.5 V499.5 H956 V555 H697.5 Z" stroke="#fff" opacity="0.9" stroke-width="4"/>
<g transform="translate(502.5,511.2)" stroke="#fff" opacity="0.88" stroke-width="2.7"><path d="M-47,-57.5 H47 L58,-47 V-15 H62.5 V14 H58 V48 L47,58.5 H-47 L-58,48 V14 H-62.5 V-15 H-58 V-47 Z"/><path d="M-23,-57 H24 V-52 H-23 Z M-23,53.5 H22 V58.5 H-23 Z" stroke-width="1.3"/><circle r="33.8" stroke-width="3"/><circle r="12.3" stroke-width="1.6"/><circle r="5.2" stroke-width="2.4"/><rect x="-23.5" y="-23" width="47" height="46.5" stroke-width="1.2" opacity="0.75"/><path d="M-25,-42 H25 M-25,40.5 H25" stroke-width="2.6"/><path d="M-45,-25 V-16 L-40,6 M-44.5,9 V24" stroke-width="2"/><circle cx="-41.5" cy="-41.5" r="10.8" stroke-width="2.8"/><circle cx="41.5" cy="-41.5" r="10.8" stroke-width="2.8"/><circle cx="-41.5" cy="41.5" r="10.8" stroke-width="2.8"/><circle cx="41.5" cy="41.5" r="10.8" stroke-width="2.8"/></g>
<circle cx="502.5" cy="511.2" r="3.0" fill="#1896e2" />
<g transform="translate(502.5,658.8)" stroke="#fff" opacity="0.88" stroke-width="2.7"><path d="M-47,-57.5 H47 L58,-47 V-15 H62.5 V14 H58 V48 L47,58.5 H-47 L-58,48 V14 H-62.5 V-15 H-58 V-47 Z"/><path d="M-23,-57 H24 V-52 H-23 Z M-23,53.5 H22 V58.5 H-23 Z" stroke-width="1.3"/><circle r="33.8" stroke-width="3"/><circle r="12.3" stroke-width="1.6"/><circle r="5.2" stroke-width="2.4"/><rect x="-23.5" y="-23" width="47" height="46.5" stroke-width="1.2" opacity="0.75"/><path d="M-25,-42 H25 M-25,40.5 H25" stroke-width="2.6"/><path d="M-45,-25 V-16 L-40,6 M-44.5,9 V24" stroke-width="2"/><circle cx="-41.5" cy="-41.5" r="10.8" stroke-width="2.8"/><circle cx="41.5" cy="-41.5" r="10.8" stroke-width="2.8"/><circle cx="-41.5" cy="41.5" r="10.8" stroke-width="2.8"/><circle cx="41.5" cy="41.5" r="10.8" stroke-width="2.8"/></g>
<circle cx="502.5" cy="658.8" r="3.0" fill="#1896e2" />
<g transform="translate(502.5,806.0)" stroke="#fff" opacity="0.88" stroke-width="2.7"><path d="M-47,-57.5 H47 L58,-47 V-15 H62.5 V14 H58 V48 L47,58.5 H-47 L-58,48 V14 H-62.5 V-15 H-58 V-47 Z"/><path d="M-23,-57 H24 V-52 H-23 Z M-23,53.5 H22 V58.5 H-23 Z" stroke-width="1.3"/><circle r="33.8" stroke-width="3"/><circle r="12.3" stroke-width="1.6"/><circle r="5.2" stroke-width="2.4"/><rect x="-23.5" y="-23" width="47" height="46.5" stroke-width="1.2" opacity="0.75"/><path d="M-25,-42 H25 M-25,40.5 H25" stroke-width="2.6"/><path d="M-45,-25 V-16 L-40,6 M-44.5,9 V24" stroke-width="2"/><circle cx="-41.5" cy="-41.5" r="10.8" stroke-width="2.8"/><circle cx="41.5" cy="-41.5" r="10.8" stroke-width="2.8"/><circle cx="-41.5" cy="41.5" r="10.8" stroke-width="2.8"/><circle cx="41.5" cy="41.5" r="10.8" stroke-width="2.8"/></g>
<circle cx="502.5" cy="806.0" r="3.0" fill="#1896e2" />
<g transform="translate(335.5,660.0) rotate(90)" stroke="#fff" opacity="0.88" stroke-width="2.7"><path d="M-47,-57.5 H47 L58,-47 V-15 H62.5 V14 H58 V48 L47,58.5 H-47 L-58,48 V14 H-62.5 V-15 H-58 V-47 Z"/><path d="M-23,-57 H24 V-52 H-23 Z M-23,53.5 H22 V58.5 H-23 Z" stroke-width="1.3"/><circle r="33.8" stroke-width="3"/><circle r="12.3" stroke-width="1.6"/><circle r="5.2" stroke-width="2.4"/><rect x="-23.5" y="-23" width="47" height="46.5" stroke-width="1.2" opacity="0.75"/><path d="M-25,-42 H25 M-25,40.5 H25" stroke-width="2.6"/><path d="M-45,-25 V-16 L-40,6 M-44.5,9 V24" stroke-width="2"/><circle cx="-41.5" cy="-41.5" r="10.8" stroke-width="2.8"/><circle cx="41.5" cy="-41.5" r="10.8" stroke-width="2.8"/><circle cx="-41.5" cy="41.5" r="10.8" stroke-width="2.8"/><circle cx="41.5" cy="41.5" r="10.8" stroke-width="2.8"/></g>
<g transform="translate(670.0,660.0) rotate(-90)" stroke="#fff" opacity="0.88" stroke-width="2.7"><path d="M-47,-57.5 H47 L58,-47 V-15 H62.5 V14 H58 V48 L47,58.5 H-47 L-58,48 V14 H-62.5 V-15 H-58 V-47 Z"/><path d="M-23,-57 H24 V-52 H-23 Z M-23,53.5 H22 V58.5 H-23 Z" stroke-width="1.3"/><circle r="33.8" stroke-width="3"/><circle r="12.3" stroke-width="1.6"/><circle r="5.2" stroke-width="2.4"/><rect x="-23.5" y="-23" width="47" height="46.5" stroke-width="1.2" opacity="0.75"/><path d="M-25,-42 H25 M-25,40.5 H25" stroke-width="2.6"/><path d="M-45,-25 V-16 L-40,6 M-44.5,9 V24" stroke-width="2"/><circle cx="-41.5" cy="-41.5" r="10.8" stroke-width="2.8"/><circle cx="41.5" cy="-41.5" r="10.8" stroke-width="2.8"/><circle cx="-41.5" cy="41.5" r="10.8" stroke-width="2.8"/><circle cx="41.5" cy="41.5" r="10.8" stroke-width="2.8"/></g>
<rect x="44.0" y="309.0" width="272.0" height="253.0" rx="0.0" fill="none" stroke="#ffdde0" opacity="0.8" stroke-width="2.5" />
<path d="M276,77.5 L304,51 H407.5 L434,77.5 V232.5 H276 Z" stroke="#ffdde0" opacity="0.8" stroke-width="3"/>
<circle cx="355.0" cy="140.0" r="73.0" fill="none" stroke="#ffdde0" opacity="0.8" stroke-width="3.2" />
<rect x="289.5" y="92.5" width="320.0" height="94.0" rx="0.0" fill="none" stroke="#ffdde0" opacity="0.8" stroke-width="7.0" />
<polyline points="326.0,139.5 348.0,139.5" stroke="#ffdde0" opacity="0.8" stroke-width="7.5" stroke-linecap="round" />
<polyline points="355.0,122.0 355.0,157.0" stroke="#e02020" stroke-width="0.8" stroke-linecap="butt" />
<polyline points="338.0,139.5 372.0,139.5" stroke="#e02020" stroke-width="0.8" stroke-linecap="butt" />
<polyline points="489.2,55.0 489.2,86.8 554.2,86.8 554.2,55.0" stroke="#ffdde0" opacity="0.8" stroke-width="7.5" stroke-linecap="butt" />
<rect x="503.2" y="55.0" width="5.6" height="32.5" rx="0.0" fill="#fff" opacity="0.95" />
<path d="M510,71.2 H532.5 M516.2,62.5 V80 M516.5,71.2 L529,63 V79.4 Z" stroke="#fff" opacity="0.95" stroke-width="2"/>
<rect x="471.2" y="114.2" width="84.6" height="49.6" rx="0.0" fill="none" stroke="#fff" opacity="0.95" stroke-width="2.6" />
<rect x="497.5" y="101.0" width="32.5" height="12.0" rx="0.0" fill="#ffdde0" opacity="0.8" />
<rect x="482.5" y="166.0" width="10.0" height="19.0" rx="0.0" fill="#ffdde0" opacity="0.8" />
<rect x="506.0" y="166.0" width="14.0" height="24.0" rx="0.0" fill="#ffdde0" opacity="0.8" />
<rect x="535.0" y="166.0" width="11.0" height="19.0" rx="0.0" fill="#ffdde0" opacity="0.8" />
<rect x="455.0" y="197.5" width="10.0" height="30.0" rx="0.0" fill="#ffdde0" opacity="0.8" />
<rect x="506.0" y="197.5" width="10.0" height="30.0" rx="0.0" fill="#ffdde0" opacity="0.8" />
<rect x="456.0" y="198.5" width="59.0" height="28.0" rx="0.0" fill="none" stroke="#ffdde0" opacity="0.8" stroke-width="2.0" />
<rect x="612.5" y="89.5" width="103.0" height="102.0" rx="8.0" fill="none" stroke="#ffdde0" opacity="0.8" stroke-width="5.2" />
<polyline points="691.5,89.0 691.5,192.0" stroke="#ffdde0" opacity="0.8" stroke-width="7.0" stroke-linecap="butt" />
<circle cx="664.0" cy="139.0" r="39.5" fill="none" stroke="#ffdde0" opacity="0.8" stroke-width="3.4" />
<polyline points="632.0,139.0 656.5,139.0" stroke="#fff" opacity="0.95" stroke-width="7.0" stroke-linecap="round" />
<polyline points="644.5,127.0 644.5,151.5" stroke="#fff" opacity="0.95" stroke-width="7.0" stroke-linecap="round" />
<rect x="692.5" y="126.5" width="23.5" height="27.5" rx="0.0" fill="none" stroke="#fff" opacity="0.95" stroke-width="5.0" />
<rect x="453.8" y="237.8" width="97.0" height="193.0" rx="5.0" fill="none" stroke="#fff" opacity="0.95" stroke-width="3.5" />
<rect x="458.0" y="241.5" width="89.0" height="187.0" rx="4.0" fill="none" stroke="#fff" opacity="0.95" stroke-width="1.2" />
<circle cx="530.5" cy="413.8" r="9.5" fill="none" stroke="#fff" opacity="0.95" stroke-width="1.6" />
<rect x="427.5" y="247.8" width="27.5" height="8.4" rx="0.0" fill="#ffdde0" opacity="0.8" />
<rect x="550.0" y="247.8" width="28.0" height="8.4" rx="0.0" fill="#ffdde0" opacity="0.8" />
<rect x="427.5" y="271.4" width="27.5" height="8.4" rx="0.0" fill="#ffdde0" opacity="0.8" />
<rect x="550.0" y="271.4" width="28.0" height="8.4" rx="0.0" fill="#ffdde0" opacity="0.8" />
<rect x="427.5" y="295.0" width="27.5" height="8.4" rx="0.0" fill="#ffdde0" opacity="0.8" />
<rect x="550.0" y="295.0" width="28.0" height="8.4" rx="0.0" fill="#ffdde0" opacity="0.8" />
<rect x="427.5" y="318.6" width="27.5" height="8.4" rx="0.0" fill="#ffdde0" opacity="0.8" />
<rect x="550.0" y="318.6" width="28.0" height="8.4" rx="0.0" fill="#ffdde0" opacity="0.8" />
<rect x="427.5" y="342.2" width="27.5" height="8.4" rx="0.0" fill="#ffdde0" opacity="0.8" />
<rect x="550.0" y="342.2" width="28.0" height="8.4" rx="0.0" fill="#ffdde0" opacity="0.8" />
<rect x="427.5" y="365.8" width="27.5" height="8.4" rx="0.0" fill="#ffdde0" opacity="0.8" />
<rect x="550.0" y="365.8" width="28.0" height="8.4" rx="0.0" fill="#ffdde0" opacity="0.8" />
<rect x="427.5" y="389.4" width="27.5" height="8.4" rx="0.0" fill="#ffdde0" opacity="0.8" />
<rect x="550.0" y="389.4" width="28.0" height="8.4" rx="0.0" fill="#ffdde0" opacity="0.8" />
<rect x="427.5" y="413.0" width="27.5" height="8.4" rx="0.0" fill="#ffdde0" opacity="0.8" />
<rect x="550.0" y="413.0" width="28.0" height="8.4" rx="0.0" fill="#ffdde0" opacity="0.8" />
<rect x="659.5" y="257.5" width="30.0" height="15.0" rx="0.0" fill="#ffdde0" opacity="0.8" />
<rect x="659.5" y="302.5" width="30.0" height="15.0" rx="0.0" fill="#ffdde0" opacity="0.8" />
<rect x="660.5" y="258.5" width="28.0" height="58.0" rx="0.0" fill="none" stroke="#ffdde0" opacity="0.8" stroke-width="2.0" />
<rect x="350.0" y="381.0" width="30.0" height="12.5" rx="0.0" fill="#ffdde0" opacity="0.8" />
<rect x="350.0" y="427.5" width="30.0" height="12.5" rx="0.0" fill="#ffdde0" opacity="0.8" />
<rect x="351.0" y="382.0" width="28.0" height="57.0" rx="0.0" fill="none" stroke="#ffdde0" opacity="0.8" stroke-width="2.0" />
<rect x="798.0" y="585.0" width="35.0" height="12.5" rx="0.0" fill="#ffdde0" opacity="0.8" />
<rect x="798.0" y="636.5" width="35.0" height="12.5" rx="0.0" fill="#ffdde0" opacity="0.8" />
<rect x="799.0" y="586.0" width="33.0" height="62.0" rx="0.0" fill="none" stroke="#ffdde0" opacity="0.8" stroke-width="2.0" />
<rect x="866.0" y="585.0" width="35.0" height="12.5" rx="0.0" fill="#ffdde0" opacity="0.8" />
<rect x="866.0" y="636.5" width="35.0" height="12.5" rx="0.0" fill="#ffdde0" opacity="0.8" />
<rect x="867.0" y="586.0" width="33.0" height="62.0" rx="0.0" fill="none" stroke="#ffdde0" opacity="0.8" stroke-width="2.0" />
<rect x="747.0" y="629.0" width="31.0" height="10.0" rx="0.0" fill="#ffdde0" opacity="0.8" />
<rect x="747.0" y="677.5" width="31.0" height="10.0" rx="0.0" fill="#ffdde0" opacity="0.8" />
<rect x="748.0" y="630.0" width="29.0" height="56.5" rx="0.0" fill="none" stroke="#ffdde0" opacity="0.8" stroke-width="2.0" />
<rect x="807.0" y="682.0" width="13.0" height="30.0" rx="0.0" fill="#ffdde0" opacity="0.8" />
<rect x="854.0" y="682.0" width="13.0" height="30.0" rx="0.0" fill="#ffdde0" opacity="0.8" />
<rect x="808.0" y="683.0" width="58.0" height="28.0" rx="0.0" fill="none" stroke="#ffdde0" opacity="0.8" stroke-width="2.0" />
<rect x="799.2" y="598.5" width="32.6" height="38.0" rx="0.0" fill="none" stroke="#fff" opacity="0.95" stroke-width="2.4" />
<rect x="867.2" y="598.5" width="32.6" height="38.0" rx="0.0" fill="none" stroke="#fff" opacity="0.95" stroke-width="2.4" />
<rect x="788.0" y="571.5" width="56.0" height="91.5" rx="0.0" fill="none" stroke="#e01622" stroke-width="1.0" />
<rect x="856.0" y="571.5" width="56.0" height="91.5" rx="0.0" fill="none" stroke="#e01622" stroke-width="1.0" />
</g>
<g id="text">
<text x="432.0" y="480.2" font-size="30.0" fill="#fff" fill-opacity="0.85" text-anchor="middle" font-weight="normal" font-family="Liberation Sans, sans-serif" >1</text>
<text x="577.0" y="480.2" font-size="30.0" fill="#fff" fill-opacity="0.85" text-anchor="middle" font-weight="normal" font-family="Liberation Sans, sans-serif" >2</text>
<text x="432.0" y="563.2" font-size="30.0" fill="#fff" fill-opacity="0.85" text-anchor="middle" font-weight="normal" font-family="Liberation Sans, sans-serif" >3</text>
<text x="577.0" y="563.2" font-size="30.0" fill="#fff" fill-opacity="0.85" text-anchor="middle" font-weight="normal" font-family="Liberation Sans, sans-serif" >4</text>
<text x="432.0" y="627.8" font-size="30.0" fill="#fff" fill-opacity="0.85" text-anchor="middle" font-weight="normal" font-family="Liberation Sans, sans-serif" >1</text>
<text x="577.0" y="627.8" font-size="30.0" fill="#fff" fill-opacity="0.85" text-anchor="middle" font-weight="normal" font-family="Liberation Sans, sans-serif" >2</text>
<text x="432.0" y="710.8" font-size="30.0" fill="#fff" fill-opacity="0.85" text-anchor="middle" font-weight="normal" font-family="Liberation Sans, sans-serif" >3</text>
<text x="577.0" y="710.8" font-size="30.0" fill="#fff" fill-opacity="0.85" text-anchor="middle" font-weight="normal" font-family="Liberation Sans, sans-serif" >4</text>
<text x="432.0" y="775.0" font-size="30.0" fill="#fff" fill-opacity="0.85" text-anchor="middle" font-weight="normal" font-family="Liberation Sans, sans-serif" >1</text>
<text x="577.0" y="775.0" font-size="30.0" fill="#fff" fill-opacity="0.85" text-anchor="middle" font-weight="normal" font-family="Liberation Sans, sans-serif" >2</text>
<text x="432.0" y="858.0" font-size="30.0" fill="#fff" fill-opacity="0.85" text-anchor="middle" font-weight="normal" font-family="Liberation Sans, sans-serif" >3</text>
<text x="577.0" y="858.0" font-size="30.0" fill="#fff" fill-opacity="0.85" text-anchor="middle" font-weight="normal" font-family="Liberation Sans, sans-serif" >4</text>
<text x="304.0" y="585.0" font-size="30.0" fill="#fff" fill-opacity="0.85" text-anchor="middle" font-weight="normal" font-family="Liberation Sans, sans-serif" transform="rotate(-90 304.0 585.0)" >3</text>
<text x="388.0" y="585.0" font-size="30.0" fill="#fff" fill-opacity="0.85" text-anchor="middle" font-weight="normal" font-family="Liberation Sans, sans-serif" transform="rotate(-90 388.0 585.0)" >1</text>
<text x="304.0" y="733.0" font-size="30.0" fill="#fff" fill-opacity="0.85" text-anchor="middle" font-weight="normal" font-family="Liberation Sans, sans-serif" transform="rotate(-90 304.0 733.0)" >4</text>
<text x="388.0" y="733.0" font-size="30.0" fill="#fff" fill-opacity="0.85" text-anchor="middle" font-weight="normal" font-family="Liberation Sans, sans-serif" transform="rotate(-90 388.0 733.0)" >2</text>
<text x="638.5" y="585.0" font-size="30.0" fill="#fff" fill-opacity="0.85" text-anchor="middle" font-weight="normal" font-family="Liberation Sans, sans-serif" transform="rotate(-90 638.5 585.0)" >2</text>
<text x="722.5" y="585.0" font-size="30.0" fill="#fff" fill-opacity="0.85" text-anchor="middle" font-weight="normal" font-family="Liberation Sans, sans-serif" transform="rotate(-90 722.5 585.0)" >4</text>
<text x="638.5" y="733.0" font-size="30.0" fill="#fff" fill-opacity="0.85" text-anchor="middle" font-weight="normal" font-family="Liberation Sans, sans-serif" transform="rotate(-90 638.5 733.0)" >1</text>
<text x="722.5" y="733.0" font-size="30.0" fill="#fff" fill-opacity="0.85" text-anchor="middle" font-weight="normal" font-family="Liberation Sans, sans-serif" transform="rotate(-90 722.5 733.0)" >3</text>
<text x="238.5" y="66.0" font-size="21.0" fill="#fff" fill-opacity="0.80" text-anchor="start" font-weight="normal" font-family="Liberation Sans, sans-serif" >47uF</text>
<text x="247.5" y="90.0" font-size="21.0" fill="#fff" fill-opacity="0.80" text-anchor="start" font-weight="normal" font-family="Liberation Sans, sans-serif" >C2</text>
<text x="444.5" y="76.0" font-size="21.0" fill="#fff" fill-opacity="0.80" text-anchor="start" font-weight="normal" font-family="Liberation Sans, sans-serif" >D1</text>
<text x="560.5" y="76.0" font-size="21.0" fill="#fff" fill-opacity="0.80" text-anchor="start" font-weight="normal" font-family="Liberation Sans, sans-serif" >SS14 (or BAT41)</text>
<text x="438.5" y="105.0" font-size="21.0" fill="#fff" fill-opacity="0.80" text-anchor="start" font-weight="normal" font-family="Liberation Sans, sans-serif" >ME2108A33PG</text>
<text x="559.5" y="174.0" font-size="21.0" fill="#fff" fill-opacity="0.80" text-anchor="start" font-weight="normal" font-family="Liberation Sans, sans-serif" >IC2</text>
<text x="518.5" y="210.0" font-size="21.0" fill="#fff" fill-opacity="0.80" text-anchor="start" font-weight="normal" font-family="Liberation Sans, sans-serif" >C3</text>
<text x="514.5" y="229.0" font-size="21.0" fill="#fff" fill-opacity="0.80" text-anchor="start" font-weight="normal" font-family="Liberation Sans, sans-serif" >100n</text>
<text x="609.5" y="212.5" font-size="21.0" fill="#fff" fill-opacity="0.80" text-anchor="start" font-weight="normal" font-family="Liberation Sans, sans-serif" >L1</text>
<text x="659.5" y="210.5" font-size="21.0" fill="#fff" fill-opacity="0.80" text-anchor="start" font-weight="normal" font-family="Liberation Sans, sans-serif" >22uH</text>
<text x="356.0" y="377.5" font-size="21.0" fill="#fff" fill-opacity="0.80" text-anchor="start" font-weight="normal" font-family="Liberation Sans, sans-serif" >C4</text>
<text x="351.0" y="457.5" font-size="21.0" fill="#fff" fill-opacity="0.80" text-anchor="start" font-weight="normal" font-family="Liberation Sans, sans-serif" >100n</text>
<text x="552.5" y="445.0" font-size="21.0" fill="#fff" fill-opacity="0.80" text-anchor="start" font-weight="normal" font-family="Liberation Sans, sans-serif" >IC1</text>
<text x="636.0" y="331.0" font-size="21.0" fill="#fff" fill-opacity="0.80" text-anchor="start" font-weight="normal" font-family="Liberation Sans, sans-serif" >C1</text>
<text x="638.5" y="255.0" font-size="21.0" fill="#fff" fill-opacity="0.80" text-anchor="start" font-weight="normal" font-family="Liberation Sans, sans-serif" >100n</text>
<text x="467.5" y="451.0" font-size="21.0" fill="#fff" fill-opacity="0.80" text-anchor="start" font-weight="normal" font-family="Liberation Sans, sans-serif" >VOLUP</text>
<text x="474.5" y="599.0" font-size="21.0" fill="#fff" fill-opacity="0.80" text-anchor="start" font-weight="normal" font-family="Liberation Sans, sans-serif" >PLAY</text>
<text x="465.5" y="747.5" font-size="21.0" fill="#fff" fill-opacity="0.80" text-anchor="start" font-weight="normal" font-family="Liberation Sans, sans-serif" >VOLDN</text>
<text x="643.5" y="589.0" font-size="21.0" fill="#fff" fill-opacity="0.80" text-anchor="start" font-weight="normal" font-family="Liberation Sans, sans-serif" >NEXT</text>
<text x="854.0" y="573.5" font-size="21.0" fill="#fff" fill-opacity="0.80" text-anchor="start" font-weight="normal" font-family="Liberation Sans, sans-serif" >AUDIO</text>
<text x="933.5" y="575.0" font-size="21.0" fill="#fff" fill-opacity="0.80" text-anchor="start" font-weight="normal" font-family="Liberation Sans, sans-serif" >X1</text>
<text x="743.5" y="625.0" font-size="21.0" fill="#fff" fill-opacity="0.80" text-anchor="start" font-weight="normal" font-family="Liberation Sans, sans-serif" >C5</text>
<text x="743.5" y="704.0" font-size="21.0" fill="#fff" fill-opacity="0.80" text-anchor="start" font-weight="normal" font-family="Liberation Sans, sans-serif" >10n</text>
<text x="782.5" y="679.0" font-size="21.0" fill="#fff" fill-opacity="0.80" text-anchor="start" font-weight="normal" font-family="Liberation Sans, sans-serif" >R1</text>
<text x="824.5" y="679.0" font-size="21.0" fill="#fff" fill-opacity="0.80" text-anchor="start" font-weight="normal" font-family="Liberation Sans, sans-serif" >470</text>
<text x="868.0" y="679.0" font-size="21.0" fill="#fff" fill-opacity="0.80" text-anchor="start" font-weight="normal" font-family="Liberation Sans, sans-serif" >R2</text>
<text x="904.5" y="679.0" font-size="21.0" fill="#fff" fill-opacity="0.80" text-anchor="start" font-weight="normal" font-family="Liberation Sans, sans-serif" >470</text>
<text x="793.5" y="731.0" font-size="21.0" fill="#fff" fill-opacity="0.80" text-anchor="start" font-weight="normal" font-family="Liberation Sans, sans-serif" >C6</text>
<text x="836.0" y="731.0" font-size="21.0" fill="#fff" fill-opacity="0.80" text-anchor="start" font-weight="normal" font-family="Liberation Sans, sans-serif" >10n</text>
<text x="187.5" y="305.0" font-size="21.0" fill="#fff" fill-opacity="1.00" text-anchor="start" font-weight="normal" font-family="Liberation Sans, sans-serif" >VCC</text>
<text x="412.5" y="517.5" font-size="20.0" fill="#fff" fill-opacity="0.68" text-anchor="start" font-weight="normal" font-family="Liberation Sans, sans-serif" >S4</text>
<text x="412.5" y="665.0" font-size="20.0" fill="#fff" fill-opacity="0.68" text-anchor="start" font-weight="normal" font-family="Liberation Sans, sans-serif" >S1</text>
<text x="412.5" y="813.0" font-size="20.0" fill="#fff" fill-opacity="0.68" text-anchor="start" font-weight="normal" font-family="Liberation Sans, sans-serif" >S5</text>
<text x="657.5" y="750.0" font-size="20.0" fill="#fff" fill-opacity="0.68" text-anchor="start" font-weight="normal" font-family="Liberation Sans, sans-serif" >S3</text>
<text x="320.5" y="771.0" font-size="20.0" fill="#fff" fill-opacity="0.68" text-anchor="start" font-weight="normal" font-family="Liberation Sans, sans-serif" >S2</text>
<text x="306.8" y="753.0" font-size="20.0" fill="#fff" fill-opacity="0.68" text-anchor="start" font-weight="normal" font-family="Liberation Sans, sans-serif" >PREV</text>
<text x="158.0" y="588.0" font-size="20.0" fill="#fff" fill-opacity="0.68" text-anchor="start" font-weight="normal" font-family="Liberation Sans, sans-serif" >SD1</text>
<text x="132.0" y="607.0" font-size="20.0" fill="#fff" fill-opacity="0.68" text-anchor="start" font-weight="normal" font-family="Liberation Sans, sans-serif" >MICROSD</text>
<text x="711.0" y="309.0" font-size="20.0" fill="#fff" fill-opacity="0.68" text-anchor="start" font-weight="normal" font-family="Liberation Sans, sans-serif" >S6</text>
<text x="607.0" y="425.0" font-size="21.0" fill="#fff" fill-opacity="0.80" text-anchor="start" font-weight="normal" font-family="Liberation Sans, sans-serif" transform="rotate(-90 607.0 425.0)" >CH32V002A4M6</text>
<text x="164.5" y="330.5" font-size="29.0" fill="#fff" fill-opacity="0.68" text-anchor="start" font-weight="normal" font-family="Liberation Sans, sans-serif" transform="rotate(90 164.5 330.5)" >8</text>
<text x="186.0" y="511.5" font-size="29.0" fill="#fff" fill-opacity="0.68" text-anchor="start" font-weight="normal" font-family="Liberation Sans, sans-serif" transform="rotate(-90 186.0 511.5)" >1</text>
<text x="837.5" y="65.0" font-size="19.5" fill="#fff" fill-opacity="0.95" text-anchor="start" font-weight="bold" font-family="Liberation Mono, sans-serif" textLength="21.5" lengthAdjust="spacingAndGlyphs" >1x</text>
<text x="869.0" y="65.0" font-size="19.5" fill="#fff" fill-opacity="0.95" text-anchor="start" font-weight="bold" font-family="Liberation Mono, sans-serif" textLength="38.0" lengthAdjust="spacingAndGlyphs" >AAA</text>
<text x="835.5" y="232.5" font-size="19.5" fill="#fff" fill-opacity="0.70" text-anchor="start" font-weight="bold" font-family="Liberation Mono, sans-serif" textLength="35.0" lengthAdjust="spacingAndGlyphs" >BAT</text>
<text x="244.0" y="261.0" font-size="19.5" fill="#fff" fill-opacity="0.68" text-anchor="start" font-weight="bold" font-family="Liberation Mono, sans-serif" textLength="22.0" lengthAdjust="spacingAndGlyphs" >J1</text>
</g>
</svg>
</body></html>
